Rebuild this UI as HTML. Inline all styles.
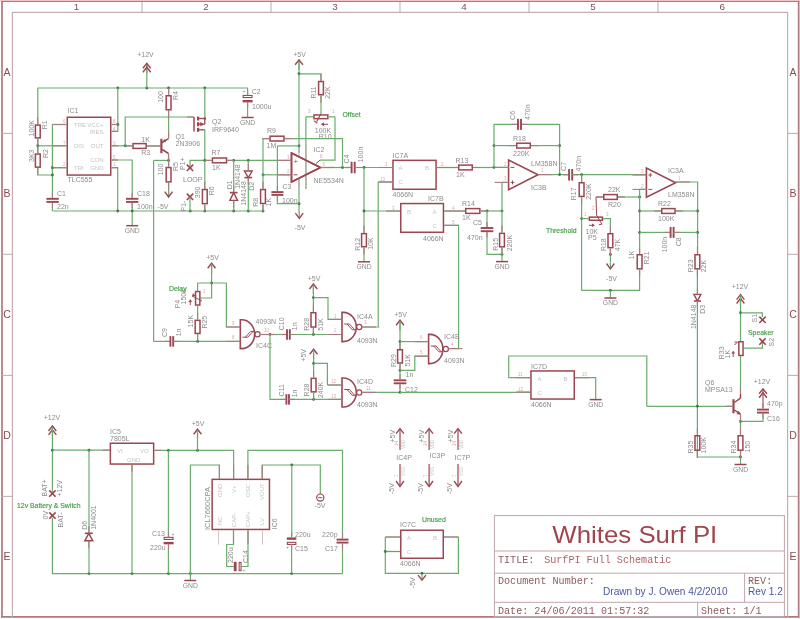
<!DOCTYPE html>
<html><head><meta charset="utf-8"><style>
html,body{margin:0;padding:0;background:#fff;}
svg{display:block;filter:blur(0.3px);}
</style></head><body>
<svg width="800" height="619" viewBox="0 0 800 619">
<rect width="800" height="619" fill="#fff"/>
<line x1="0" y1="0.5" x2="800" y2="0.5" stroke="#f5c2c8" stroke-width="1"/>
<line x1="799.5" y1="0" x2="799.5" y2="619" stroke="#f5c2c8" stroke-width="1"/>
<line x1="1.1" y1="1.45" x2="799.2" y2="1.45" stroke="#b07880" stroke-width="1.1"/>
<line x1="2" y1="0.9" x2="2" y2="617.6" stroke="#b07880" stroke-width="1.7"/>
<line x1="798.5" y1="0.9" x2="798.5" y2="617.6" stroke="#b07880" stroke-width="1.4"/>
<line x1="1.1" y1="616.8" x2="799.2" y2="616.8" stroke="#b07880" stroke-width="1.7"/>
<polyline points="12.4,617 12.4,12.3 787.6,12.3 787.6,617" fill="none" stroke="#c4b0b4" stroke-width="1.2"/>
<line x1="142" y1="2" x2="142" y2="12.3" stroke="#c4b0b4" stroke-width="1.1"/>
<line x1="271" y1="2" x2="271" y2="12.3" stroke="#c4b0b4" stroke-width="1.1"/>
<line x1="400" y1="2" x2="400" y2="12.3" stroke="#c4b0b4" stroke-width="1.1"/>
<line x1="529" y1="2" x2="529" y2="12.3" stroke="#c4b0b4" stroke-width="1.1"/>
<line x1="658" y1="2" x2="658" y2="12.3" stroke="#c4b0b4" stroke-width="1.1"/>
<text x="76.60000000000001" y="10.1" font-family="Liberation Sans" font-size="9.8" fill="#7e4e54" text-anchor="middle" font-weight="normal">1</text>
<text x="205.9" y="10.1" font-family="Liberation Sans" font-size="9.8" fill="#7e4e54" text-anchor="middle" font-weight="normal">2</text>
<text x="334.9" y="10.1" font-family="Liberation Sans" font-size="9.8" fill="#7e4e54" text-anchor="middle" font-weight="normal">3</text>
<text x="463.9" y="10.1" font-family="Liberation Sans" font-size="9.8" fill="#7e4e54" text-anchor="middle" font-weight="normal">4</text>
<text x="592.9" y="10.1" font-family="Liberation Sans" font-size="9.8" fill="#7e4e54" text-anchor="middle" font-weight="normal">5</text>
<text x="722.1999999999999" y="10.1" font-family="Liberation Sans" font-size="9.8" fill="#7e4e54" text-anchor="middle" font-weight="normal">6</text>
<line x1="2" y1="133.4" x2="12.4" y2="133.4" stroke="#c4b0b4" stroke-width="1.1"/>
<line x1="787.6" y1="133.4" x2="798" y2="133.4" stroke="#c4b0b4" stroke-width="1.1"/>
<line x1="2" y1="254.3" x2="12.4" y2="254.3" stroke="#c4b0b4" stroke-width="1.1"/>
<line x1="787.6" y1="254.3" x2="798" y2="254.3" stroke="#c4b0b4" stroke-width="1.1"/>
<line x1="2" y1="375.4" x2="12.4" y2="375.4" stroke="#c4b0b4" stroke-width="1.1"/>
<line x1="787.6" y1="375.4" x2="798" y2="375.4" stroke="#c4b0b4" stroke-width="1.1"/>
<line x1="2" y1="496.4" x2="12.4" y2="496.4" stroke="#c4b0b4" stroke-width="1.1"/>
<line x1="787.6" y1="496.4" x2="798" y2="496.4" stroke="#c4b0b4" stroke-width="1.1"/>
<text x="7.1" y="75.75000000000001" font-family="Liberation Sans" font-size="10.5" fill="#8a4a50" text-anchor="middle" font-weight="normal">A</text>
<text x="793" y="75.75000000000001" font-family="Liberation Sans" font-size="10.5" fill="#8a4a50" text-anchor="middle" font-weight="normal">A</text>
<text x="7.1" y="196.75000000000003" font-family="Liberation Sans" font-size="10.5" fill="#8a4a50" text-anchor="middle" font-weight="normal">B</text>
<text x="793" y="196.75000000000003" font-family="Liberation Sans" font-size="10.5" fill="#8a4a50" text-anchor="middle" font-weight="normal">B</text>
<text x="7.1" y="317.75" font-family="Liberation Sans" font-size="10.5" fill="#8a4a50" text-anchor="middle" font-weight="normal">C</text>
<text x="793" y="317.75" font-family="Liberation Sans" font-size="10.5" fill="#8a4a50" text-anchor="middle" font-weight="normal">C</text>
<text x="7.1" y="438.79999999999995" font-family="Liberation Sans" font-size="10.5" fill="#8a4a50" text-anchor="middle" font-weight="normal">D</text>
<text x="793" y="438.79999999999995" font-family="Liberation Sans" font-size="10.5" fill="#8a4a50" text-anchor="middle" font-weight="normal">D</text>
<text x="7.1" y="559.6" font-family="Liberation Sans" font-size="10.5" fill="#8a4a50" text-anchor="middle" font-weight="normal">E</text>
<text x="793" y="559.6" font-family="Liberation Sans" font-size="10.5" fill="#8a4a50" text-anchor="middle" font-weight="normal">E</text>
<polyline points="37.8,124.5 37.8,88 247.6,88 247.6,94.4" fill="none" stroke="#6aac6c" stroke-width="1.2"/>
<circle cx="117.8" cy="88" r="1.45" fill="#3f7a4a"/>
<circle cx="146.8" cy="88" r="1.45" fill="#3f7a4a"/>
<circle cx="168.6" cy="88" r="1.45" fill="#3f7a4a"/>
<circle cx="204.8" cy="88" r="1.45" fill="#3f7a4a"/>
<polyline points="146.8,88 146.8,64" fill="none" stroke="#6aac6c" stroke-width="1.2"/>
<line x1="146.8" y1="63.3" x2="146.8" y2="73.3" stroke="#6aac6c" stroke-width="1.2"/>
<polyline points="142.9,68.3 146.8,63.3 150.70000000000002,68.3" fill="none" stroke="#9c4652" stroke-width="1.4"/>
<polyline points="142.9,72.2 146.8,67.2 150.70000000000002,72.2" fill="none" stroke="#9c4652" stroke-width="1.4"/>
<text x="145.5" y="57" font-family="Liberation Sans" font-size="7" fill="#8c8c8c" text-anchor="middle" font-weight="normal">+12V</text>
<rect x="35.4" y="125.05" width="4.799999999999997" height="12.899999999999991" fill="none" stroke="#9c4652" stroke-width="1.5"/>
<polyline points="37.8,138.7 37.8,153.3" fill="none" stroke="#6aac6c" stroke-width="1.2"/>
<rect x="35.4" y="154.05" width="4.799999999999997" height="13.099999999999994" fill="none" stroke="#9c4652" stroke-width="1.5"/>
<polyline points="37.8,167.9 37.8,175 52.4,175" fill="none" stroke="#6aac6c" stroke-width="1.2"/>
<circle cx="37.8" cy="145.8" r="1.45" fill="#3f7a4a"/>
<text x="34" y="136.5" font-family="Liberation Sans" font-size="7" fill="#8c8c8c" text-anchor="start" font-weight="normal" transform="rotate(-90 34 136.5)">100K</text>
<text x="47.5" y="129.3" font-family="Liberation Sans" font-size="7" fill="#8c8c8c" text-anchor="start" font-weight="normal" transform="rotate(-90 47.5 129.3)">R1</text>
<text x="34" y="162" font-family="Liberation Sans" font-size="7" fill="#8c8c8c" text-anchor="start" font-weight="normal" transform="rotate(-90 34 162)">3K3</text>
<text x="47.5" y="158" font-family="Liberation Sans" font-size="7" fill="#8c8c8c" text-anchor="start" font-weight="normal" transform="rotate(-90 47.5 158)">R2</text>
<rect x="67.25" y="117.25" width="43.5" height="57.80000000000001" fill="none" stroke="#9c4652" stroke-width="1.5"/>
<text x="67.5" y="113.3" font-family="Liberation Sans" font-size="7" fill="#8c8c8c" text-anchor="start" font-weight="normal">IC1</text>
<text x="67.5" y="181.8" font-family="Liberation Sans" font-size="7" fill="#8c8c8c" text-anchor="start" font-weight="normal">TLC555</text>
<text x="74" y="127" font-family="Liberation Sans" font-size="6" fill="#c4c4c4" text-anchor="start" font-weight="normal">TRE</text>
<text x="103.5" y="127" font-family="Liberation Sans" font-size="6" fill="#c4c4c4" text-anchor="end" font-weight="normal">VCC+</text>
<text x="103.5" y="133.8" font-family="Liberation Sans" font-size="6" fill="#c4c4c4" text-anchor="end" font-weight="normal">/RES</text>
<text x="74" y="148.3" font-family="Liberation Sans" font-size="6" fill="#c4c4c4" text-anchor="start" font-weight="normal">DIS</text>
<text x="103.5" y="148.3" font-family="Liberation Sans" font-size="6" fill="#c4c4c4" text-anchor="end" font-weight="normal">OUT</text>
<text x="103.5" y="162.3" font-family="Liberation Sans" font-size="6" fill="#c4c4c4" text-anchor="end" font-weight="normal">CON</text>
<text x="74" y="170" font-family="Liberation Sans" font-size="6" fill="#c4c4c4" text-anchor="start" font-weight="normal">TRI</text>
<text x="103.5" y="170" font-family="Liberation Sans" font-size="6" fill="#c4c4c4" text-anchor="end" font-weight="normal">GND</text>
<polyline points="52.4,124.5 66.5,124.5" fill="none" stroke="#6aac6c" stroke-width="1.2"/>
<polyline points="37.8,145.8 66.5,145.8" fill="none" stroke="#6aac6c" stroke-width="1.2"/>
<polyline points="52.4,167.7 66.5,167.7" fill="none" stroke="#6aac6c" stroke-width="1.2"/>
<polyline points="52.4,124.5 52.4,198" fill="none" stroke="#6aac6c" stroke-width="1.2"/>
<circle cx="52.4" cy="167.7" r="1.45" fill="#3f7a4a"/>
<circle cx="52.4" cy="175" r="1.45" fill="#3f7a4a"/>
<polyline points="111.5,124.5 117.8,124.5" fill="none" stroke="#6aac6c" stroke-width="1.2"/>
<polyline points="111.5,131.4 117.8,131.4 117.8,88" fill="none" stroke="#6aac6c" stroke-width="1.2"/>
<circle cx="117.8" cy="124.5" r="1.45" fill="#3f7a4a"/>
<polyline points="111.5,145.8 132.3,145.8" fill="none" stroke="#6aac6c" stroke-width="1.2"/>
<circle cx="125.2" cy="145.8" r="1.45" fill="#3f7a4a"/>
<polyline points="125.2,145.8 125.2,117 194,117" fill="none" stroke="#6aac6c" stroke-width="1.2"/>
<polyline points="111.5,160 132.2,160 132.2,198" fill="none" stroke="#6aac6c" stroke-width="1.2"/>
<polyline points="111.5,167.7 117.7,167.7 117.7,211" fill="none" stroke="#6aac6c" stroke-width="1.2"/>
<text x="63" y="123" font-family="Liberation Sans" font-size="4.5" fill="#dca6ac" text-anchor="start" font-weight="normal">6</text>
<text x="63" y="144.5" font-family="Liberation Sans" font-size="4.5" fill="#dca6ac" text-anchor="start" font-weight="normal">7</text>
<text x="63" y="166" font-family="Liberation Sans" font-size="4.5" fill="#dca6ac" text-anchor="start" font-weight="normal">2</text>
<text x="113" y="123" font-family="Liberation Sans" font-size="4.5" fill="#dca6ac" text-anchor="start" font-weight="normal">8</text>
<text x="113" y="130.5" font-family="Liberation Sans" font-size="4.5" fill="#dca6ac" text-anchor="start" font-weight="normal">4</text>
<text x="113" y="144.5" font-family="Liberation Sans" font-size="4.5" fill="#dca6ac" text-anchor="start" font-weight="normal">3</text>
<text x="113" y="158.5" font-family="Liberation Sans" font-size="4.5" fill="#dca6ac" text-anchor="start" font-weight="normal">5</text>
<text x="113" y="166" font-family="Liberation Sans" font-size="4.5" fill="#dca6ac" text-anchor="start" font-weight="normal">1</text>
<rect x="46.4" y="197.85000000000002" width="12.400000000000006" height="1.8999999999999773" fill="#9c4652"/>
<rect x="46.4" y="200.95000000000002" width="12.400000000000006" height="1.8999999999999773" fill="#9c4652"/>
<polyline points="52.4,202.9 52.4,211" fill="none" stroke="#6aac6c" stroke-width="1.2"/>
<text x="57" y="195.5" font-family="Liberation Sans" font-size="7" fill="#8c8c8c" text-anchor="start" font-weight="normal">C1</text>
<text x="57" y="208.5" font-family="Liberation Sans" font-size="7" fill="#8c8c8c" text-anchor="start" font-weight="normal">22n</text>
<rect x="125.99999999999999" y="197.85000000000002" width="12.399999999999991" height="1.8999999999999773" fill="#9c4652"/>
<rect x="125.99999999999999" y="200.95000000000002" width="12.399999999999991" height="1.8999999999999773" fill="#9c4652"/>
<polyline points="132.2,202.9 132.2,225.5" fill="none" stroke="#6aac6c" stroke-width="1.2"/>
<line x1="126.19999999999999" y1="225.7" x2="138.2" y2="225.7" stroke="#9c4652" stroke-width="1.5"/>
<text x="132.2" y="232.89999999999998" font-family="Liberation Sans" font-size="6.8" fill="#8c8c8c" text-anchor="middle" font-weight="normal">GND</text>
<text x="137" y="195.5" font-family="Liberation Sans" font-size="7" fill="#8c8c8c" text-anchor="start" font-weight="normal">C18</text>
<text x="137" y="208.5" font-family="Liberation Sans" font-size="7" fill="#8c8c8c" text-anchor="start" font-weight="normal">100n</text>
<polyline points="52.4,211 263,211" fill="none" stroke="#6aac6c" stroke-width="1.2"/>
<circle cx="117.7" cy="211" r="1.45" fill="#3f7a4a"/>
<circle cx="132.2" cy="211" r="1.45" fill="#3f7a4a"/>
<circle cx="190.2" cy="211" r="1.45" fill="#3f7a4a"/>
<circle cx="204.8" cy="211" r="1.45" fill="#3f7a4a"/>
<circle cx="233.7" cy="211" r="1.45" fill="#3f7a4a"/>
<circle cx="248.3" cy="211" r="1.45" fill="#3f7a4a"/>
<circle cx="263" cy="211" r="1.45" fill="#3f7a4a"/>
<rect x="133.05" y="143.6" width="13.099999999999994" height="4.800000000000011" fill="none" stroke="#9c4652" stroke-width="1.5"/>
<polyline points="146.9,146 160.5,146" fill="none" stroke="#6aac6c" stroke-width="1.2"/>
<text x="141.3" y="142" font-family="Liberation Sans" font-size="7" fill="#8c8c8c" text-anchor="start" font-weight="normal">1K</text>
<text x="141.3" y="155" font-family="Liberation Sans" font-size="7" fill="#8c8c8c" text-anchor="start" font-weight="normal">R3</text>
<rect x="160.3" y="138.8" width="2.1999999999999886" height="14.399999999999977" fill="#9c4652"/>
<line x1="162.2" y1="142.5" x2="168.5" y2="138.6" stroke="#9c4652" stroke-width="1.5"/>
<polyline points="168.6,138.6 168.6,110.5" fill="none" stroke="#6aac6c" stroke-width="1.2"/>
<line x1="162.2" y1="149.5" x2="168.5" y2="153.5" stroke="#9c4652" stroke-width="1.5"/>
<line x1="168.5" y1="153.5" x2="168.5" y2="160.4" stroke="#6aac6c" stroke-width="1.2"/>
<polygon points="162.6,142.3 166.2,141.6 164.2,139.0" fill="#9c4652"/>
<text x="175.5" y="138.5" font-family="Liberation Sans" font-size="7" fill="#8c8c8c" text-anchor="start" font-weight="normal">Q1</text>
<text x="175.5" y="146" font-family="Liberation Sans" font-size="7" fill="#8c8c8c" text-anchor="start" font-weight="normal">2N3906</text>
<polyline points="168.6,88 168.6,95" fill="none" stroke="#6aac6c" stroke-width="1.2"/>
<rect x="166.2" y="95.75" width="4.800000000000011" height="14.0" fill="none" stroke="#9c4652" stroke-width="1.5"/>
<text x="163.5" y="102.8" font-family="Liberation Sans" font-size="7" fill="#8c8c8c" text-anchor="start" font-weight="normal" transform="rotate(-90 163.5 102.8)">100</text>
<text x="177.5" y="100" font-family="Liberation Sans" font-size="7" fill="#8c8c8c" text-anchor="start" font-weight="normal" transform="rotate(-90 177.5 100)">R4</text>
<line x1="194" y1="117" x2="194" y2="131.5" stroke="#9c4652" stroke-width="1.5"/>
<rect x="197" y="116.5" width="2.1999999999999886" height="4.0" fill="#9c4652"/>
<rect x="197" y="122.2" width="2.1999999999999886" height="4.0" fill="#9c4652"/>
<rect x="197" y="127.8" width="2.1999999999999886" height="4.000000000000014" fill="#9c4652"/>
<line x1="199" y1="118.5" x2="204.8" y2="118.5" stroke="#9c4652" stroke-width="1.3"/>
<line x1="199" y1="124.2" x2="204.8" y2="124.2" stroke="#9c4652" stroke-width="1.3"/>
<line x1="199" y1="129.8" x2="204.8" y2="129.8" stroke="#9c4652" stroke-width="1.3"/>
<line x1="204.8" y1="118.5" x2="204.8" y2="124.2" stroke="#9c4652" stroke-width="1.3"/>
<polygon points="204,124.2 200.3,121.8 200.3,126.6" fill="#9c4652"/>
<rect x="203.8" y="117.3" width="2.1999999999999886" height="2.4000000000000057" fill="#9c4652"/>
<polyline points="204.8,88 204.8,118" fill="none" stroke="#6aac6c" stroke-width="1.2"/>
<polyline points="204.8,129.8 204.8,189" fill="none" stroke="#6aac6c" stroke-width="1.2"/>
<text x="212" y="124.4" font-family="Liberation Sans" font-size="7" fill="#8c8c8c" text-anchor="start" font-weight="normal">Q2</text>
<text x="212" y="131.8" font-family="Liberation Sans" font-size="7" fill="#8c8c8c" text-anchor="start" font-weight="normal">IRF9640</text>
<rect x="243.15" y="95.45" width="8.9" height="2.0999999999999885" fill="none" stroke="#9c4652" stroke-width="1.1"/>
<rect x="242.6" y="100.0" width="10.0" height="2.4000000000000057" fill="#9c4652"/>
<polyline points="247.6,102.4 247.6,117" fill="none" stroke="#6aac6c" stroke-width="1.2"/>
<line x1="241.6" y1="117.5" x2="253.6" y2="117.5" stroke="#9c4652" stroke-width="1.5"/>
<text x="247.6" y="124.7" font-family="Liberation Sans" font-size="6.8" fill="#8c8c8c" text-anchor="middle" font-weight="normal">GND</text>
<text x="251.8" y="94.3" font-family="Liberation Sans" font-size="7" fill="#8c8c8c" text-anchor="start" font-weight="normal">C2</text>
<text x="252" y="108.5" font-family="Liberation Sans" font-size="7" fill="#8c8c8c" text-anchor="start" font-weight="normal">1000u</text>
<text x="242.5" y="92.5" font-family="Liberation Sans" font-size="5" fill="#8c8c8c" text-anchor="start" font-weight="normal">+</text>
<polyline points="153.6,160.4 168.6,160.4" fill="none" stroke="#6aac6c" stroke-width="1.2"/>
<circle cx="168.6" cy="160.4" r="1.45" fill="#3f7a4a"/>
<polyline points="153.6,160.4 153.6,341.4" fill="none" stroke="#6aac6c" stroke-width="1.2"/>
<polyline points="168.6,160.4 168.6,166.8" fill="none" stroke="#6aac6c" stroke-width="1.2"/>
<rect x="166.2" y="167.55" width="4.800000000000011" height="14.299999999999983" fill="none" stroke="#9c4652" stroke-width="1.5"/>
<polyline points="168.6,182.6 168.6,196.5" fill="none" stroke="#6aac6c" stroke-width="1.2"/>
<line x1="168.6" y1="190.7" x2="168.6" y2="197" stroke="#6aac6c" stroke-width="1.2"/>
<polyline points="164.7,191.7 168.6,197 172.5,191.7" fill="none" stroke="#9c4652" stroke-width="1.4"/>
<text x="163" y="208.5" font-family="Liberation Sans" font-size="7" fill="#8c8c8c" text-anchor="middle" font-weight="normal">-5V</text>
<text x="163.5" y="175.3" font-family="Liberation Sans" font-size="7" fill="#8c8c8c" text-anchor="start" font-weight="normal" transform="rotate(-90 163.5 175.3)">100</text>
<text x="177.5" y="171" font-family="Liberation Sans" font-size="7" fill="#8c8c8c" text-anchor="start" font-weight="normal" transform="rotate(-90 177.5 171)">R5</text>
<polyline points="204.8,160.4 190,160.4 190,167.5" fill="none" stroke="#6aac6c" stroke-width="1.2"/>
<circle cx="204.8" cy="160.4" r="1.45" fill="#3f7a4a"/>
<line x1="186.8" y1="164.60000000000002" x2="193.2" y2="171.0" stroke="#9c4652" stroke-width="1.6"/>
<line x1="186.8" y1="171.0" x2="193.2" y2="164.60000000000002" stroke="#9c4652" stroke-width="1.6"/>
<line x1="186.8" y1="193.60000000000002" x2="193.2" y2="200.0" stroke="#9c4652" stroke-width="1.6"/>
<line x1="186.8" y1="200.0" x2="193.2" y2="193.60000000000002" stroke="#9c4652" stroke-width="1.6"/>
<polyline points="190,197 190,211" fill="none" stroke="#6aac6c" stroke-width="1.2"/>
<text x="184.5" y="170" font-family="Liberation Sans" font-size="7" fill="#8c8c8c" text-anchor="start" font-weight="normal" transform="rotate(-90 184.5 170)">P1+</text>
<text x="186" y="211.5" font-family="Liberation Sans" font-size="7" fill="#8c8c8c" text-anchor="start" font-weight="normal" transform="rotate(-90 186 211.5)">P1-</text>
<text x="183" y="182" font-family="Liberation Sans" font-size="7" fill="#8c8c8c" text-anchor="start" font-weight="normal">LOOP</text>
<rect x="202.4" y="189.55" width="4.800000000000011" height="14.099999999999994" fill="none" stroke="#9c4652" stroke-width="1.5"/>
<polyline points="204.8,204.4 204.8,211" fill="none" stroke="#6aac6c" stroke-width="1.2"/>
<text x="200.4" y="198.2" font-family="Liberation Sans" font-size="7" fill="#8c8c8c" text-anchor="start" font-weight="normal" transform="rotate(-90 200.4 198.2)">390</text>
<text x="214" y="195.3" font-family="Liberation Sans" font-size="7" fill="#8c8c8c" text-anchor="start" font-weight="normal" transform="rotate(-90 214 195.3)">R6</text>
<polyline points="204.8,160.4 211.7,160.4" fill="none" stroke="#6aac6c" stroke-width="1.2"/>
<rect x="212.45" y="158.0" width="14.100000000000023" height="4.800000000000011" fill="none" stroke="#9c4652" stroke-width="1.5"/>
<polyline points="227.3,160.4 291.5,160.4" fill="none" stroke="#6aac6c" stroke-width="1.2"/>
<circle cx="233.7" cy="160.4" r="1.45" fill="#3f7a4a"/>
<circle cx="248.3" cy="160.4" r="1.45" fill="#3f7a4a"/>
<text x="211.5" y="155" font-family="Liberation Sans" font-size="7" fill="#8c8c8c" text-anchor="start" font-weight="normal">R7</text>
<text x="212" y="169.5" font-family="Liberation Sans" font-size="7" fill="#8c8c8c" text-anchor="start" font-weight="normal">1K</text>
<polyline points="233.7,160.4 233.7,192.6" fill="none" stroke="#6aac6c" stroke-width="1.2"/>
<polyline points="233.7,200.4 233.7,211" fill="none" stroke="#6aac6c" stroke-width="1.2"/>
<polygon points="229.85,200.4 237.54999999999998,200.4 233.7,192.6" fill="none" stroke="#9c4652" stroke-width="1.4"/>
<line x1="229.85" y1="192.6" x2="237.54999999999998" y2="192.6" stroke="#9c4652" stroke-width="1.6"/>
<text x="231.8" y="189.2" font-family="Liberation Sans" font-size="7" fill="#8c8c8c" text-anchor="start" font-weight="normal" transform="rotate(-90 231.8 189.2)">D1</text>
<text x="239.8" y="188.8" font-family="Liberation Sans" font-size="7" fill="#8c8c8c" text-anchor="start" font-weight="normal" transform="rotate(-90 239.8 188.8)">1N4148</text>
<polyline points="248.3,160.4 248.3,171" fill="none" stroke="#6aac6c" stroke-width="1.2"/>
<polyline points="248.3,177.6 248.3,211" fill="none" stroke="#6aac6c" stroke-width="1.2"/>
<polygon points="244.45000000000002,171 252.15,171 248.3,177.6" fill="none" stroke="#9c4652" stroke-width="1.4"/>
<line x1="244.45000000000002" y1="177.6" x2="252.15" y2="177.6" stroke="#9c4652" stroke-width="1.6"/>
<text x="246.4" y="205.6" font-family="Liberation Sans" font-size="7" fill="#8c8c8c" text-anchor="start" font-weight="normal" transform="rotate(-90 246.4 205.6)">1N4148</text>
<text x="254.4" y="190.8" font-family="Liberation Sans" font-size="7" fill="#8c8c8c" text-anchor="start" font-weight="normal" transform="rotate(-90 254.4 190.8)">D2</text>
<polyline points="299,60.5 299,153" fill="none" stroke="#6aac6c" stroke-width="1.2"/>
<line x1="299" y1="59.8" x2="299" y2="69.8" stroke="#6aac6c" stroke-width="1.2"/>
<polyline points="295.1,64.8 299,59.8 302.9,64.8" fill="none" stroke="#9c4652" stroke-width="1.4"/>
<text x="299.5" y="56.5" font-family="Liberation Sans" font-size="7" fill="#8c8c8c" text-anchor="middle" font-weight="normal">+5V</text>
<circle cx="299" cy="73.8" r="1.45" fill="#3f7a4a"/>
<polyline points="299,73.8 321,73.8 321,81" fill="none" stroke="#6aac6c" stroke-width="1.2"/>
<rect x="318.6" y="81.55" width="4.7999999999999545" height="13.200000000000003" fill="none" stroke="#9c4652" stroke-width="1.5"/>
<polyline points="321,95.5 321,114" fill="none" stroke="#6aac6c" stroke-width="1.2"/>
<text x="315.8" y="98.6" font-family="Liberation Sans" font-size="7" fill="#8c8c8c" text-anchor="start" font-weight="normal" transform="rotate(-90 315.8 98.6)">R11</text>
<text x="330.2" y="98.8" font-family="Liberation Sans" font-size="7" fill="#8c8c8c" text-anchor="start" font-weight="normal" transform="rotate(-90 330.2 98.8)">22K</text>
<rect x="313.95" y="114.95" width="13.900000000000034" height="3.700000000000003" fill="none" stroke="#9c4652" stroke-width="1.5"/>
<polyline points="305.9,116.8 313.2,116.8" fill="none" stroke="#6aac6c" stroke-width="1.2"/>
<polyline points="328.6,116.8 335,116.8" fill="none" stroke="#6aac6c" stroke-width="1.2"/>
<line x1="320.8" y1="114" x2="316.6" y2="121.8" stroke="#9c4652" stroke-width="1.1"/>
<line x1="313.8" y1="120.6" x2="317.3" y2="123.4" stroke="#9c4652" stroke-width="1.1"/>
<line x1="321.5" y1="124.3" x2="328" y2="124.3" stroke="#9c4652" stroke-width="1"/>
<polygon points="321,124.3 324,122.3 324,126.3" fill="#9c4652"/>
<polyline points="305.9,116.8 305.9,189" fill="none" stroke="#6aac6c" stroke-width="1.2"/>
<polyline points="335,116.8 335,160.2 320,160.2" fill="none" stroke="#6aac6c" stroke-width="1.2"/>
<line x1="320" y1="160.2" x2="316" y2="163.5" stroke="#9c4652" stroke-width="1"/>
<text x="314.8" y="133" font-family="Liberation Sans" font-size="7" fill="#8c8c8c" text-anchor="start" font-weight="normal">100K</text>
<text x="318.8" y="138.7" font-family="Liberation Sans" font-size="7" fill="#8c8c8c" text-anchor="start" font-weight="normal">R10</text>
<text x="342.5" y="116.5" font-family="Liberation Sans" font-size="6.9" fill="#3f9a3f" text-anchor="start" font-weight="normal" stroke="#4a9a4a" stroke-width="0.15">Offset</text>
<text x="308" y="113" font-family="Liberation Sans" font-size="4.5" fill="#dca6ac" text-anchor="start" font-weight="normal">3</text>
<text x="332" y="113" font-family="Liberation Sans" font-size="4.5" fill="#dca6ac" text-anchor="start" font-weight="normal">1</text>
<polygon points="291.5,153 291.5,182 320.5,167.5" fill="none" stroke="#9c4652" stroke-width="1.6" stroke-linejoin="miter"/>
<text x="293.5" y="164" font-family="Liberation Sans" font-size="8" fill="#9c4652" text-anchor="start" font-weight="normal">+</text>
<line x1="293.5" y1="174.8" x2="297.5" y2="174.8" stroke="#9c4652" stroke-width="1"/>
<polyline points="291.5,174.8 263,174.8" fill="none" stroke="#6aac6c" stroke-width="1.2"/>
<circle cx="263" cy="174.8" r="1.45" fill="#3f7a4a"/>
<polyline points="299,177.9 299,203.7" fill="none" stroke="#6aac6c" stroke-width="1.2"/>
<polyline points="299,203.7 299,212.8" fill="none" stroke="#6aac6c" stroke-width="1.2"/>
<circle cx="299" cy="203.7" r="1.45" fill="#3f7a4a"/>
<line x1="299.3" y1="212.1" x2="299.3" y2="218.4" stroke="#6aac6c" stroke-width="1.2"/>
<polyline points="295.40000000000003,213.1 299.3,218.4 303.2,213.1" fill="none" stroke="#9c4652" stroke-width="1.4"/>
<text x="300" y="229.5" font-family="Liberation Sans" font-size="7" fill="#8c8c8c" text-anchor="middle" font-weight="normal">-5V</text>
<text x="313.5" y="151.5" font-family="Liberation Sans" font-size="7" fill="#8c8c8c" text-anchor="start" font-weight="normal">IC2</text>
<text x="313.5" y="182.5" font-family="Liberation Sans" font-size="7" fill="#8c8c8c" text-anchor="start" font-weight="normal">NE5534N</text>
<text x="287" y="158.5" font-family="Liberation Sans" font-size="4.5" fill="#dca6ac" text-anchor="start" font-weight="normal">3</text>
<text x="287" y="172.5" font-family="Liberation Sans" font-size="4.5" fill="#dca6ac" text-anchor="start" font-weight="normal">2</text>
<text x="322.5" y="165.5" font-family="Liberation Sans" font-size="4.5" fill="#dca6ac" text-anchor="start" font-weight="normal">6</text>
<text x="320" y="158" font-family="Liberation Sans" font-size="4.5" fill="#dca6ac" text-anchor="start" font-weight="normal">8</text>
<polyline points="320.5,167.5 351.3,167.5" fill="none" stroke="#6aac6c" stroke-width="1.2"/>
<circle cx="342.5" cy="167.5" r="1.45" fill="#3f7a4a"/>
<polyline points="342.5,167.5 342.5,138.6 284.7,138.6" fill="none" stroke="#6aac6c" stroke-width="1.2"/>
<rect x="270.05" y="136.2" width="13.899999999999977" height="4.800000000000011" fill="none" stroke="#9c4652" stroke-width="1.5"/>
<polyline points="269.3,138.6 263,138.6 263,188.8" fill="none" stroke="#6aac6c" stroke-width="1.2"/>
<text x="267" y="133" font-family="Liberation Sans" font-size="7" fill="#8c8c8c" text-anchor="start" font-weight="normal">R9</text>
<text x="266.5" y="148.3" font-family="Liberation Sans" font-size="7" fill="#8c8c8c" text-anchor="start" font-weight="normal">1M</text>
<circle cx="299" cy="145.9" r="1.45" fill="#3f7a4a"/>
<polyline points="277.4,145.9 299,145.9" fill="none" stroke="#6aac6c" stroke-width="1.2"/>
<polyline points="277.4,145.9 277.4,191.5" fill="none" stroke="#6aac6c" stroke-width="1.2"/>
<rect x="271.4" y="191.15" width="12.0" height="1.8999999999999773" fill="#9c4652"/>
<rect x="271.4" y="193.95000000000002" width="12.0" height="1.8999999999999773" fill="#9c4652"/>
<polyline points="277.4,195.5 277.4,203.7 299,203.7" fill="none" stroke="#6aac6c" stroke-width="1.2"/>
<text x="282.5" y="189" font-family="Liberation Sans" font-size="7" fill="#8c8c8c" text-anchor="start" font-weight="normal">C3</text>
<text x="282" y="203" font-family="Liberation Sans" font-size="7" fill="#8c8c8c" text-anchor="start" font-weight="normal">100n</text>
<rect x="260.6" y="189.55" width="4.7999999999999545" height="13.899999999999977" fill="none" stroke="#9c4652" stroke-width="1.5"/>
<polyline points="263,204.2 263,211" fill="none" stroke="#6aac6c" stroke-width="1.2"/>
<text x="257.6" y="206.8" font-family="Liberation Sans" font-size="7" fill="#8c8c8c" text-anchor="start" font-weight="normal" transform="rotate(-90 257.6 206.8)">R8</text>
<text x="271.3" y="206.4" font-family="Liberation Sans" font-size="7" fill="#8c8c8c" text-anchor="start" font-weight="normal" transform="rotate(-90 271.3 206.4)">1K</text>
<rect x="350.65000000000003" y="161.75" width="1.8999999999999773" height="11.5" fill="#9c4652"/>
<rect x="353.75" y="161.75" width="1.8999999999999773" height="11.5" fill="#9c4652"/>
<polyline points="354.7,167.5 392.4,167.5" fill="none" stroke="#6aac6c" stroke-width="1.2"/>
<circle cx="364" cy="167.5" r="1.45" fill="#3f7a4a"/>
<text x="348.8" y="163.4" font-family="Liberation Sans" font-size="7" fill="#8c8c8c" text-anchor="start" font-weight="normal" transform="rotate(-90 348.8 163.4)">C4</text>
<text x="363.5" y="162.3" font-family="Liberation Sans" font-size="7" fill="#8c8c8c" text-anchor="start" font-weight="normal" transform="rotate(-90 363.5 162.3)">100n</text>
<polyline points="364,167.5 364,232.9" fill="none" stroke="#6aac6c" stroke-width="1.2"/>
<rect x="361.6" y="233.65" width="4.7999999999999545" height="13.099999999999994" fill="none" stroke="#9c4652" stroke-width="1.5"/>
<polyline points="364,247.5 364,261.8" fill="none" stroke="#6aac6c" stroke-width="1.2"/>
<line x1="358.0" y1="261.8" x2="370.0" y2="261.8" stroke="#9c4652" stroke-width="1.5"/>
<text x="364" y="269.0" font-family="Liberation Sans" font-size="6.8" fill="#8c8c8c" text-anchor="middle" font-weight="normal">GND</text>
<text x="359.8" y="250.7" font-family="Liberation Sans" font-size="7" fill="#8c8c8c" text-anchor="start" font-weight="normal" transform="rotate(-90 359.8 250.7)">R12</text>
<text x="373.1" y="249.8" font-family="Liberation Sans" font-size="7" fill="#8c8c8c" text-anchor="start" font-weight="normal" transform="rotate(-90 373.1 249.8)">10K</text>
<polyline points="364,211 400,211" fill="none" stroke="#6aac6c" stroke-width="1.2"/>
<circle cx="364" cy="211" r="1.45" fill="#3f7a4a"/>
<rect x="392.95" y="160.35" width="43.10000000000002" height="28.900000000000006" fill="none" stroke="#9c4652" stroke-width="1.5"/>
<text x="392.5" y="157.5" font-family="Liberation Sans" font-size="7" fill="#8c8c8c" text-anchor="start" font-weight="normal">IC7A</text>
<text x="392.5" y="196.8" font-family="Liberation Sans" font-size="7" fill="#8c8c8c" text-anchor="start" font-weight="normal">4066N</text>
<text x="398.5" y="170" font-family="Liberation Sans" font-size="6" fill="#c4c4c4" text-anchor="start" font-weight="normal">A</text>
<text x="425" y="170" font-family="Liberation Sans" font-size="6" fill="#c4c4c4" text-anchor="start" font-weight="normal">B</text>
<text x="398.5" y="184.3" font-family="Liberation Sans" font-size="6" fill="#c4c4c4" text-anchor="start" font-weight="normal">C</text>
<text x="385" y="165.5" font-family="Liberation Sans" font-size="4.5" fill="#dca6ac" text-anchor="start" font-weight="normal">1</text>
<text x="380" y="180.5" font-family="Liberation Sans" font-size="4.5" fill="#dca6ac" text-anchor="start" font-weight="normal">13</text>
<text x="441" y="165.5" font-family="Liberation Sans" font-size="4.5" fill="#dca6ac" text-anchor="start" font-weight="normal">2</text>
<polyline points="378.2,182 392.2,182" fill="none" stroke="#6aac6c" stroke-width="1.2"/>
<polyline points="378.2,182 378.2,326.8" fill="none" stroke="#6aac6c" stroke-width="1.2"/>
<polyline points="436.6,167.5 458,167.5" fill="none" stroke="#6aac6c" stroke-width="1.2"/>
<rect x="458.75" y="165.1" width="13.5" height="4.800000000000011" fill="none" stroke="#9c4652" stroke-width="1.5"/>
<polyline points="473,167.5 494,167.5" fill="none" stroke="#6aac6c" stroke-width="1.2"/>
<text x="455.5" y="162.5" font-family="Liberation Sans" font-size="7" fill="#8c8c8c" text-anchor="start" font-weight="normal">R13</text>
<text x="456" y="177" font-family="Liberation Sans" font-size="7" fill="#8c8c8c" text-anchor="start" font-weight="normal">1K</text>
<rect x="400.75" y="203.55" width="42.69999999999999" height="28.69999999999999" fill="none" stroke="#9c4652" stroke-width="1.5"/>
<text x="428" y="200.5" font-family="Liberation Sans" font-size="7" fill="#8c8c8c" text-anchor="start" font-weight="normal">IC7B</text>
<text x="423" y="240.5" font-family="Liberation Sans" font-size="7" fill="#8c8c8c" text-anchor="start" font-weight="normal">4066N</text>
<text x="407" y="213.5" font-family="Liberation Sans" font-size="6" fill="#c4c4c4" text-anchor="start" font-weight="normal">B</text>
<text x="432.5" y="213.5" font-family="Liberation Sans" font-size="6" fill="#c4c4c4" text-anchor="start" font-weight="normal">A</text>
<text x="432.5" y="227.8" font-family="Liberation Sans" font-size="6" fill="#c4c4c4" text-anchor="start" font-weight="normal">C</text>
<text x="392" y="209.5" font-family="Liberation Sans" font-size="4.5" fill="#dca6ac" text-anchor="start" font-weight="normal">3</text>
<text x="452" y="209.5" font-family="Liberation Sans" font-size="4.5" fill="#dca6ac" text-anchor="start" font-weight="normal">4</text>
<text x="452" y="224" font-family="Liberation Sans" font-size="4.5" fill="#dca6ac" text-anchor="start" font-weight="normal">5</text>
<polyline points="444.2,211 465,211" fill="none" stroke="#6aac6c" stroke-width="1.2"/>
<rect x="465.75" y="208.6" width="14.100000000000023" height="4.800000000000011" fill="none" stroke="#9c4652" stroke-width="1.5"/>
<polyline points="480.6,211 502,211" fill="none" stroke="#6aac6c" stroke-width="1.2"/>
<circle cx="487" cy="211" r="1.45" fill="#3f7a4a"/>
<circle cx="502" cy="211" r="1.45" fill="#3f7a4a"/>
<text x="462" y="206" font-family="Liberation Sans" font-size="7" fill="#8c8c8c" text-anchor="start" font-weight="normal">R14</text>
<text x="462" y="220" font-family="Liberation Sans" font-size="7" fill="#8c8c8c" text-anchor="start" font-weight="normal">1K</text>
<polyline points="444.2,225.3 458.6,225.3 458.6,348.4" fill="none" stroke="#6aac6c" stroke-width="1.2"/>
<polyline points="487,211 487,227" fill="none" stroke="#6aac6c" stroke-width="1.2"/>
<rect x="480.7" y="227.05" width="12.600000000000023" height="1.8999999999999773" fill="#9c4652"/>
<rect x="480.7" y="230.25" width="12.600000000000023" height="1.8999999999999773" fill="#9c4652"/>
<polyline points="487,231.8 487,254.4 502,254.4" fill="none" stroke="#6aac6c" stroke-width="1.2"/>
<circle cx="502" cy="254.4" r="1.45" fill="#3f7a4a"/>
<text x="473" y="225" font-family="Liberation Sans" font-size="7" fill="#8c8c8c" text-anchor="start" font-weight="normal">C5</text>
<text x="467" y="239.5" font-family="Liberation Sans" font-size="7" fill="#8c8c8c" text-anchor="start" font-weight="normal">470n</text>
<polyline points="502,182.4 502,232.6" fill="none" stroke="#6aac6c" stroke-width="1.2"/>
<rect x="499.6" y="233.35" width="4.7999999999999545" height="13.5" fill="none" stroke="#9c4652" stroke-width="1.5"/>
<polyline points="502,247.6 502,261.6" fill="none" stroke="#6aac6c" stroke-width="1.2"/>
<line x1="496.0" y1="261.6" x2="508.0" y2="261.6" stroke="#9c4652" stroke-width="1.5"/>
<text x="502" y="268.8" font-family="Liberation Sans" font-size="6.8" fill="#8c8c8c" text-anchor="middle" font-weight="normal">GND</text>
<text x="497.6" y="250.7" font-family="Liberation Sans" font-size="7" fill="#8c8c8c" text-anchor="start" font-weight="normal" transform="rotate(-90 497.6 250.7)">R15</text>
<text x="511.7" y="251.2" font-family="Liberation Sans" font-size="7" fill="#8c8c8c" text-anchor="start" font-weight="normal" transform="rotate(-90 511.7 251.2)">220K</text>
<line x1="305.9" y1="146" x2="305.9" y2="189" stroke="#c9a9ad" stroke-width="1.1"/>
<line x1="299" y1="149" x2="299" y2="157" stroke="#c9a9ad" stroke-width="1.1"/>
<line x1="299" y1="178" x2="299" y2="189" stroke="#c9a9ad" stroke-width="1.1"/>
<line x1="279.5" y1="174.8" x2="291.5" y2="174.8" stroke="#c9a9ad" stroke-width="1.1"/>
<line x1="320.5" y1="167.5" x2="334" y2="167.5" stroke="#c9a9ad" stroke-width="1.1"/>
<polygon points="291.5,153 291.5,182 320.5,167.5" fill="none" stroke="#9c4652" stroke-width="1.6" stroke-linejoin="miter"/>
<polygon points="508.6,160 508.6,189.6 538,174.8" fill="none" stroke="#9c4652" stroke-width="1.6" stroke-linejoin="miter"/>
<line x1="510.6" y1="167.4" x2="514.4" y2="167.4" stroke="#9c4652" stroke-width="1"/>
<line x1="510.6" y1="182.4" x2="514.4" y2="182.4" stroke="#9c4652" stroke-width="1"/>
<line x1="512.5" y1="180.5" x2="512.5" y2="184.3" stroke="#9c4652" stroke-width="1"/>
<polyline points="494,167.4 508.6,167.4" fill="none" stroke="#6aac6c" stroke-width="1.2"/>
<circle cx="494" cy="167.4" r="1.45" fill="#3f7a4a"/>
<polyline points="502,182.4 508.6,182.4" fill="none" stroke="#6aac6c" stroke-width="1.2"/>
<polyline points="494,167.4 494,124.4 518,124.4" fill="none" stroke="#6aac6c" stroke-width="1.2"/>
<polyline points="521,124.4 559.6,124.4 559.6,174.6" fill="none" stroke="#6aac6c" stroke-width="1.2"/>
<rect x="517.05" y="118.9" width="1.900000000000091" height="11.0" fill="#9c4652"/>
<rect x="520.05" y="118.9" width="1.900000000000091" height="11.0" fill="#9c4652"/>
<text x="515.4" y="119.9" font-family="Liberation Sans" font-size="7" fill="#8c8c8c" text-anchor="start" font-weight="normal" transform="rotate(-90 515.4 119.9)">C6</text>
<text x="529.5" y="120" font-family="Liberation Sans" font-size="7" fill="#8c8c8c" text-anchor="start" font-weight="normal" transform="rotate(-90 529.5 120)">470n</text>
<circle cx="494" cy="145.6" r="1.45" fill="#3f7a4a"/>
<circle cx="559.6" cy="145.6" r="1.45" fill="#3f7a4a"/>
<polyline points="494,145.6 516,145.6" fill="none" stroke="#6aac6c" stroke-width="1.2"/>
<rect x="516.75" y="143.2" width="13.5" height="4.800000000000011" fill="none" stroke="#9c4652" stroke-width="1.5"/>
<polyline points="531,145.6 559.6,145.6" fill="none" stroke="#6aac6c" stroke-width="1.2"/>
<text x="513" y="141" font-family="Liberation Sans" font-size="7" fill="#8c8c8c" text-anchor="start" font-weight="normal">R18</text>
<text x="513" y="155.5" font-family="Liberation Sans" font-size="7" fill="#8c8c8c" text-anchor="start" font-weight="normal">220K</text>
<polyline points="538,174.6 569,174.6" fill="none" stroke="#6aac6c" stroke-width="1.2"/>
<circle cx="559.6" cy="174.6" r="1.45" fill="#3f7a4a"/>
<text x="531" y="166" font-family="Liberation Sans" font-size="7" fill="#8c8c8c" text-anchor="start" font-weight="normal">LM358N</text>
<text x="531" y="189.5" font-family="Liberation Sans" font-size="7" fill="#8c8c8c" text-anchor="start" font-weight="normal">IC3B</text>
<text x="504" y="165.5" font-family="Liberation Sans" font-size="4.5" fill="#dca6ac" text-anchor="start" font-weight="normal">2</text>
<text x="504" y="180" font-family="Liberation Sans" font-size="4.5" fill="#dca6ac" text-anchor="start" font-weight="normal">3</text>
<text x="541" y="172" font-family="Liberation Sans" font-size="4.5" fill="#dca6ac" text-anchor="start" font-weight="normal">1</text>
<rect x="568.15" y="169.0" width="1.900000000000091" height="11.600000000000023" fill="#9c4652"/>
<rect x="571.25" y="169.0" width="1.900000000000091" height="11.600000000000023" fill="#9c4652"/>
<polyline points="572.2,174.6 646.4,174.6" fill="none" stroke="#6aac6c" stroke-width="1.2"/>
<circle cx="581.6" cy="174.6" r="1.45" fill="#3f7a4a"/>
<text x="566.5" y="170.9" font-family="Liberation Sans" font-size="7" fill="#8c8c8c" text-anchor="start" font-weight="normal" transform="rotate(-90 566.5 170.9)">C7</text>
<text x="580.7" y="171.4" font-family="Liberation Sans" font-size="7" fill="#8c8c8c" text-anchor="start" font-weight="normal" transform="rotate(-90 580.7 171.4)">470n</text>
<polyline points="581.6,174.6 581.6,182" fill="none" stroke="#6aac6c" stroke-width="1.2"/>
<rect x="579.2" y="182.75" width="4.7999999999999545" height="13.699999999999989" fill="none" stroke="#9c4652" stroke-width="1.5"/>
<polyline points="581.6,197.2 581.6,290.4" fill="none" stroke="#6aac6c" stroke-width="1.2"/>
<text x="576.3" y="200.3" font-family="Liberation Sans" font-size="7" fill="#8c8c8c" text-anchor="start" font-weight="normal" transform="rotate(-90 576.3 200.3)">R17</text>
<text x="591" y="199.8" font-family="Liberation Sans" font-size="7" fill="#8c8c8c" text-anchor="start" font-weight="normal" transform="rotate(-90 591 199.8)">220K</text>
<circle cx="581.6" cy="218.6" r="1.45" fill="#3f7a4a"/>
<polyline points="581.6,218.6 588.6,218.6" fill="none" stroke="#6aac6c" stroke-width="1.2"/>
<rect x="589.35" y="217.15" width="13.100000000000023" height="3.0999999999999943" fill="none" stroke="#9c4652" stroke-width="1.5"/>
<polyline points="603.2,218.6 610.4,218.6 610.4,233" fill="none" stroke="#6aac6c" stroke-width="1.2"/>
<line x1="596" y1="197" x2="596.6" y2="215" stroke="#9c4652" stroke-width="1"/>
<line x1="596.6" y1="215" x2="601.8" y2="224.2" stroke="#9c4652" stroke-width="1"/>
<line x1="601.8" y1="224.2" x2="598.8" y2="224.8" stroke="#9c4652" stroke-width="1"/>
<line x1="589" y1="225.3" x2="593" y2="225.3" stroke="#9c4652" stroke-width="1"/>
<polygon points="595,225.3 592,223.5 592,227.1" fill="#9c4652"/>
<text x="585.5" y="234.3" font-family="Liberation Sans" font-size="7" fill="#8c8c8c" text-anchor="start" font-weight="normal">10K</text>
<text x="588" y="240" font-family="Liberation Sans" font-size="7" fill="#8c8c8c" text-anchor="start" font-weight="normal">P5</text>
<text x="584" y="216" font-family="Liberation Sans" font-size="4.5" fill="#dca6ac" text-anchor="start" font-weight="normal">1</text>
<text x="606" y="216" font-family="Liberation Sans" font-size="4.5" fill="#dca6ac" text-anchor="start" font-weight="normal">3</text>
<text x="592" y="210" font-family="Liberation Sans" font-size="4.5" fill="#dca6ac" text-anchor="start" font-weight="normal">2</text>
<text x="546" y="233" font-family="Liberation Sans" font-size="6.9" fill="#3f9a3f" text-anchor="start" font-weight="normal" stroke="#4a9a4a" stroke-width="0.15">Threshold</text>
<rect x="603.75" y="194.6" width="13.5" height="4.800000000000011" fill="none" stroke="#9c4652" stroke-width="1.5"/>
<polyline points="618,197 639.6,197" fill="none" stroke="#6aac6c" stroke-width="1.2"/>
<circle cx="639.6" cy="197" r="1.45" fill="#3f7a4a"/>
<line x1="596" y1="197" x2="603" y2="197" stroke="#9c4652" stroke-width="1"/>
<text x="608" y="191.5" font-family="Liberation Sans" font-size="7" fill="#8c8c8c" text-anchor="start" font-weight="normal">22K</text>
<text x="608" y="206.5" font-family="Liberation Sans" font-size="7" fill="#8c8c8c" text-anchor="start" font-weight="normal">R20</text>
<rect x="608.0" y="233.75" width="4.7999999999999545" height="13.900000000000006" fill="none" stroke="#9c4652" stroke-width="1.5"/>
<polyline points="610.4,248.4 610.4,262.5" fill="none" stroke="#6aac6c" stroke-width="1.2"/>
<circle cx="610.4" cy="254.4" r="1.45" fill="#3f7a4a"/>
<line x1="610.4" y1="262.5" x2="610.4" y2="268.8" stroke="#6aac6c" stroke-width="1.2"/>
<polyline points="606.5,263.5 610.4,268.8 614.3,263.5" fill="none" stroke="#9c4652" stroke-width="1.4"/>
<text x="611.5" y="281.3" font-family="Liberation Sans" font-size="7" fill="#8c8c8c" text-anchor="middle" font-weight="normal">-5V</text>
<text x="605.9" y="251.1" font-family="Liberation Sans" font-size="7" fill="#8c8c8c" text-anchor="start" font-weight="normal" transform="rotate(-90 605.9 251.1)">R18</text>
<text x="620" y="251.2" font-family="Liberation Sans" font-size="7" fill="#8c8c8c" text-anchor="start" font-weight="normal" transform="rotate(-90 620 251.2)">47K</text>
<polygon points="646.4,168.1 646.4,197.3 675.6,182.7" fill="none" stroke="#9c4652" stroke-width="1.6" stroke-linejoin="miter"/>
<line x1="648.4" y1="175" x2="652.2" y2="175" stroke="#9c4652" stroke-width="1"/>
<line x1="650.3" y1="173.1" x2="650.3" y2="176.9" stroke="#9c4652" stroke-width="1"/>
<line x1="648.4" y1="189.4" x2="652.2" y2="189.4" stroke="#9c4652" stroke-width="1"/>
<polyline points="639.6,189.4 646.4,189.4" fill="none" stroke="#6aac6c" stroke-width="1.2"/>
<polyline points="639.6,189.4 639.6,254" fill="none" stroke="#6aac6c" stroke-width="1.2"/>
<text x="668" y="173" font-family="Liberation Sans" font-size="7" fill="#8c8c8c" text-anchor="start" font-weight="normal">IC3A</text>
<text x="668" y="196.5" font-family="Liberation Sans" font-size="7" fill="#8c8c8c" text-anchor="start" font-weight="normal">LM358N</text>
<text x="641" y="173" font-family="Liberation Sans" font-size="4.5" fill="#dca6ac" text-anchor="start" font-weight="normal">3</text>
<text x="641" y="187.5" font-family="Liberation Sans" font-size="4.5" fill="#dca6ac" text-anchor="start" font-weight="normal">2</text>
<text x="678" y="180" font-family="Liberation Sans" font-size="4.5" fill="#dca6ac" text-anchor="start" font-weight="normal">1</text>
<polyline points="675.6,182 697.6,182 697.6,254" fill="none" stroke="#6aac6c" stroke-width="1.2"/>
<circle cx="639.6" cy="211" r="1.45" fill="#3f7a4a"/>
<circle cx="697.6" cy="211" r="1.45" fill="#3f7a4a"/>
<circle cx="639.6" cy="232.4" r="1.45" fill="#3f7a4a"/>
<circle cx="697.6" cy="232.4" r="1.45" fill="#3f7a4a"/>
<polyline points="639.6,211 661,211" fill="none" stroke="#6aac6c" stroke-width="1.2"/>
<rect x="661.75" y="208.6" width="13.299999999999955" height="4.800000000000011" fill="none" stroke="#9c4652" stroke-width="1.5"/>
<polyline points="675.8,211 697.6,211" fill="none" stroke="#6aac6c" stroke-width="1.2"/>
<text x="658" y="206" font-family="Liberation Sans" font-size="7" fill="#8c8c8c" text-anchor="start" font-weight="normal">R22</text>
<text x="658" y="220.5" font-family="Liberation Sans" font-size="7" fill="#8c8c8c" text-anchor="start" font-weight="normal">100K</text>
<polyline points="639.6,232.4 670.6,232.4" fill="none" stroke="#6aac6c" stroke-width="1.2"/>
<rect x="669.65" y="226.9" width="1.900000000000091" height="11.0" fill="#9c4652"/>
<rect x="672.65" y="226.9" width="1.900000000000091" height="11.0" fill="#9c4652"/>
<polyline points="673.6,232.4 697.6,232.4" fill="none" stroke="#6aac6c" stroke-width="1.2"/>
<text x="666.7" y="252.3" font-family="Liberation Sans" font-size="7" fill="#8c8c8c" text-anchor="start" font-weight="normal" transform="rotate(-90 666.7 252.3)">100n</text>
<text x="681.3" y="246.3" font-family="Liberation Sans" font-size="7" fill="#8c8c8c" text-anchor="start" font-weight="normal" transform="rotate(-90 681.3 246.3)">C8</text>
<rect x="637.2" y="254.75" width="4.7999999999999545" height="14.100000000000023" fill="none" stroke="#9c4652" stroke-width="1.5"/>
<polyline points="639.6,269.6 639.6,290.4 581.6,290.4" fill="none" stroke="#6aac6c" stroke-width="1.2"/>
<circle cx="610.4" cy="290.4" r="1.45" fill="#3f7a4a"/>
<polyline points="610.4,290.4 610.4,298" fill="none" stroke="#6aac6c" stroke-width="1.2"/>
<line x1="604.4" y1="298" x2="616.4" y2="298" stroke="#9c4652" stroke-width="1.5"/>
<text x="610.4" y="305.2" font-family="Liberation Sans" font-size="6.8" fill="#8c8c8c" text-anchor="middle" font-weight="normal">GND</text>
<text x="634.3" y="259.2" font-family="Liberation Sans" font-size="7" fill="#8c8c8c" text-anchor="start" font-weight="normal" transform="rotate(-90 634.3 259.2)">1K</text>
<text x="648.9" y="264.3" font-family="Liberation Sans" font-size="7" fill="#8c8c8c" text-anchor="start" font-weight="normal" transform="rotate(-90 648.9 264.3)">R21</text>
<rect x="695.0" y="254.75" width="4.7999999999999545" height="14.100000000000023" fill="none" stroke="#9c4652" stroke-width="1.5"/>
<polyline points="697.4,269.6 697.4,294.4" fill="none" stroke="#6aac6c" stroke-width="1.2"/>
<polygon points="693.9,294.4 700.9,294.4 697.4,301" fill="none" stroke="#9c4652" stroke-width="1.4"/>
<line x1="693.9" y1="301" x2="700.9" y2="301" stroke="#9c4652" stroke-width="1.6"/>
<polyline points="697.4,301 697.4,457" fill="none" stroke="#6aac6c" stroke-width="1.2"/>
<text x="693.3" y="272.3" font-family="Liberation Sans" font-size="7" fill="#8c8c8c" text-anchor="start" font-weight="normal" transform="rotate(-90 693.3 272.3)">R23</text>
<text x="706.4" y="272.3" font-family="Liberation Sans" font-size="7" fill="#8c8c8c" text-anchor="start" font-weight="normal" transform="rotate(-90 706.4 272.3)">22K</text>
<text x="704.8" y="313.8" font-family="Liberation Sans" font-size="7" fill="#8c8c8c" text-anchor="start" font-weight="normal" transform="rotate(-90 704.8 313.8)">D3</text>
<text x="695.6" y="329.1" font-family="Liberation Sans" font-size="7" fill="#8c8c8c" text-anchor="start" font-weight="normal" transform="rotate(-90 695.6 329.1)">1N4148</text>
<line x1="740.5" y1="294.6" x2="740.5" y2="304.6" stroke="#6aac6c" stroke-width="1.2"/>
<polyline points="736.6,299.6 740.5,294.6 744.4,299.6" fill="none" stroke="#9c4652" stroke-width="1.4"/>
<polyline points="736.6,303.5 740.5,298.5 744.4,303.5" fill="none" stroke="#9c4652" stroke-width="1.4"/>
<text x="740" y="289" font-family="Liberation Sans" font-size="7" fill="#8c8c8c" text-anchor="middle" font-weight="normal">+12V</text>
<polyline points="740.5,295 740.5,341" fill="none" stroke="#6aac6c" stroke-width="1.2"/>
<circle cx="740.5" cy="312.8" r="1.45" fill="#3f7a4a"/>
<polyline points="740.5,312.8 762.4,312.8 762.4,317" fill="none" stroke="#6aac6c" stroke-width="1.2"/>
<line x1="759.3" y1="316.6" x2="765.7" y2="323.0" stroke="#9c4652" stroke-width="1.6"/>
<line x1="759.3" y1="323.0" x2="765.7" y2="316.6" stroke="#9c4652" stroke-width="1.6"/>
<text x="757" y="322.5" font-family="Liberation Sans" font-size="7" fill="#8c8c8c" text-anchor="start" font-weight="normal" transform="rotate(-90 757 322.5)">S1</text>
<text x="748" y="335" font-family="Liberation Sans" font-size="6.9" fill="#3f9a3f" text-anchor="start" font-weight="normal" stroke="#4a9a4a" stroke-width="0.15">Speaker</text>
<line x1="759.3" y1="338.3" x2="765.7" y2="344.7" stroke="#9c4652" stroke-width="1.6"/>
<line x1="759.3" y1="344.7" x2="765.7" y2="338.3" stroke="#9c4652" stroke-width="1.6"/>
<text x="773.5" y="346.5" font-family="Liberation Sans" font-size="7" fill="#8c8c8c" text-anchor="start" font-weight="normal" transform="rotate(-90 773.5 346.5)">S2</text>
<polyline points="762.4,343 762.4,348.2 744,348.2" fill="none" stroke="#6aac6c" stroke-width="1.2"/>
<rect x="738.85" y="341.75" width="4.199999999999932" height="13.699999999999989" fill="none" stroke="#9c4652" stroke-width="1.5"/>
<line x1="733.2" y1="352.5" x2="733.2" y2="357" stroke="#9c4652" stroke-width="1"/>
<polygon points="733.2,350.5 731.4,353.5 735,353.5" fill="#9c4652"/>
<line x1="734.5" y1="345" x2="737.5" y2="342" stroke="#9c4652" stroke-width="1"/>
<line x1="734.5" y1="342" x2="737.5" y2="342" stroke="#9c4652" stroke-width="1"/>
<text x="724.5" y="359.3" font-family="Liberation Sans" font-size="7" fill="#8c8c8c" text-anchor="start" font-weight="normal" transform="rotate(-90 724.5 359.3)">R33</text>
<text x="730" y="358.5" font-family="Liberation Sans" font-size="7" fill="#8c8c8c" text-anchor="start" font-weight="normal" transform="rotate(-90 730 358.5)">1K</text>
<polyline points="740.5,356.2 740.5,394" fill="none" stroke="#6aac6c" stroke-width="1.2"/>
<rect x="732.4" y="399.2" width="2.2000000000000455" height="14.100000000000023" fill="#9c4652"/>
<line x1="734.4" y1="402.5" x2="740.5" y2="398.2" stroke="#9c4652" stroke-width="1.5"/>
<line x1="740.5" y1="398.2" x2="740.5" y2="394" stroke="#9c4652" stroke-width="1.5"/>
<line x1="734.4" y1="410" x2="740.5" y2="414.2" stroke="#9c4652" stroke-width="1.5"/>
<polygon points="740.8,414.5 736.5,414.2 738.6,410.8" fill="#9c4652"/>
<polyline points="740.5,414.5 740.5,435" fill="none" stroke="#6aac6c" stroke-width="1.2"/>
<polyline points="646.8,406.3 732.4,406.3" fill="none" stroke="#6aac6c" stroke-width="1.2"/>
<circle cx="697.4" cy="406.3" r="1.45" fill="#3f7a4a"/>
<text x="705" y="384.7" font-family="Liberation Sans" font-size="7" fill="#8c8c8c" text-anchor="start" font-weight="normal">Q6</text>
<text x="705" y="392" font-family="Liberation Sans" font-size="7" fill="#8c8c8c" text-anchor="start" font-weight="normal">MPSA13</text>
<circle cx="740.5" cy="421.4" r="1.45" fill="#3f7a4a"/>
<polyline points="740.5,421.4 763,421.4 763,413.6" fill="none" stroke="#6aac6c" stroke-width="1.2"/>
<rect x="757.0" y="408.65000000000003" width="12.0" height="1.8999999999999773" fill="#9c4652"/>
<rect x="757.0" y="411.65000000000003" width="12.0" height="1.8999999999999773" fill="#9c4652"/>
<line x1="763" y1="408.6" x2="763" y2="389" stroke="#9c4652" stroke-width="1.1"/>
<polyline points="759.1,393.8 763,388.8 766.9,393.8" fill="none" stroke="#9c4652" stroke-width="1.4"/>
<polyline points="759.1,397.7 763,392.7 766.9,397.7" fill="none" stroke="#9c4652" stroke-width="1.4"/>
<text x="762" y="383.5" font-family="Liberation Sans" font-size="7" fill="#8c8c8c" text-anchor="middle" font-weight="normal">+12V</text>
<text x="767" y="405.5" font-family="Liberation Sans" font-size="7" fill="#8c8c8c" text-anchor="start" font-weight="normal">470p</text>
<text x="767" y="420.5" font-family="Liberation Sans" font-size="7" fill="#8c8c8c" text-anchor="start" font-weight="normal">C16</text>
<rect x="738.1" y="435.75" width="4.7999999999999545" height="14.5" fill="none" stroke="#9c4652" stroke-width="1.5"/>
<rect x="695.0" y="435.75" width="4.7999999999999545" height="14.5" fill="none" stroke="#9c4652" stroke-width="1.5"/>
<polyline points="697.4,451 697.4,457 740.5,457" fill="none" stroke="#6aac6c" stroke-width="1.2"/>
<polyline points="740.5,451 740.5,464.5" fill="none" stroke="#6aac6c" stroke-width="1.2"/>
<circle cx="740.5" cy="457" r="1.45" fill="#3f7a4a"/>
<line x1="734.5" y1="464.5" x2="746.5" y2="464.5" stroke="#9c4652" stroke-width="1.5"/>
<text x="740.5" y="471.7" font-family="Liberation Sans" font-size="6.8" fill="#8c8c8c" text-anchor="middle" font-weight="normal">GND</text>
<text x="693" y="453.5" font-family="Liberation Sans" font-size="7" fill="#8c8c8c" text-anchor="start" font-weight="normal" transform="rotate(-90 693 453.5)">R35</text>
<text x="706" y="453.5" font-family="Liberation Sans" font-size="7" fill="#8c8c8c" text-anchor="start" font-weight="normal" transform="rotate(-90 706 453.5)">100K</text>
<text x="736" y="453.5" font-family="Liberation Sans" font-size="7" fill="#8c8c8c" text-anchor="start" font-weight="normal" transform="rotate(-90 736 453.5)">R34</text>
<text x="749.5" y="452.5" font-family="Liberation Sans" font-size="7" fill="#8c8c8c" text-anchor="start" font-weight="normal" transform="rotate(-90 749.5 452.5)">150</text>
<polyline points="153.6,341.4 170.4,341.4" fill="none" stroke="#6aac6c" stroke-width="1.2"/>
<rect x="169.45000000000002" y="336.15" width="1.8999999999999773" height="10.5" fill="#9c4652"/>
<rect x="172.25" y="336.15" width="1.8999999999999773" height="10.5" fill="#9c4652"/>
<polyline points="173.2,341.4 240,341.4" fill="none" stroke="#6aac6c" stroke-width="1.2"/>
<circle cx="197.6" cy="341.4" r="1.45" fill="#3f7a4a"/>
<text x="167" y="337" font-family="Liberation Sans" font-size="7" fill="#8c8c8c" text-anchor="start" font-weight="normal" transform="rotate(-90 167 337)">C9</text>
<text x="181.5" y="336.3" font-family="Liberation Sans" font-size="7" fill="#8c8c8c" text-anchor="start" font-weight="normal" transform="rotate(-90 181.5 336.3)">1n</text>
<line x1="211.6" y1="263.2" x2="211.6" y2="273.2" stroke="#6aac6c" stroke-width="1.2"/>
<polyline points="207.7,268.2 211.6,263.2 215.5,268.2" fill="none" stroke="#9c4652" stroke-width="1.4"/>
<text x="212.5" y="259.5" font-family="Liberation Sans" font-size="7" fill="#8c8c8c" text-anchor="middle" font-weight="normal">+5V</text>
<polyline points="211.6,264 211.6,298 199.8,298" fill="none" stroke="#6aac6c" stroke-width="1.2"/>
<circle cx="211.6" cy="283" r="1.45" fill="#3f7a4a"/>
<polyline points="197.6,291 197.6,283 226.4,283 226.4,327 240,327" fill="none" stroke="#6aac6c" stroke-width="1.2"/>
<rect x="195.55" y="291.55" width="4.299999999999983" height="13.5" fill="none" stroke="#9c4652" stroke-width="1.5"/>
<line x1="192" y1="296" x2="202" y2="301" stroke="#9c4652" stroke-width="1"/>
<polygon points="193,293 192,296.5 195.5,296" fill="#9c4652"/>
<line x1="190.3" y1="300.5" x2="190.3" y2="305" stroke="#9c4652" stroke-width="1"/>
<polygon points="190.3,299 188.6,302 192,302" fill="#9c4652"/>
<polyline points="197.6,305.8 197.6,319.6" fill="none" stroke="#6aac6c" stroke-width="1.2"/>
<text x="169" y="290.6" font-family="Liberation Sans" font-size="6.9" fill="#3f9a3f" text-anchor="start" font-weight="normal" stroke="#4a9a4a" stroke-width="0.15">Delay</text>
<text x="180.5" y="308.3" font-family="Liberation Sans" font-size="7" fill="#8c8c8c" text-anchor="start" font-weight="normal" transform="rotate(-90 180.5 308.3)">P4</text>
<text x="186.3" y="304.5" font-family="Liberation Sans" font-size="7" fill="#8c8c8c" text-anchor="start" font-weight="normal" transform="rotate(-90 186.3 304.5)">150K</text>
<text x="203" y="292.5" font-family="Liberation Sans" font-size="4.5" fill="#dca6ac" text-anchor="start" font-weight="normal">2</text>
<rect x="195.2" y="320.35" width="4.800000000000011" height="13.099999999999966" fill="none" stroke="#9c4652" stroke-width="1.5"/>
<polyline points="197.6,334.2 197.6,341.4" fill="none" stroke="#6aac6c" stroke-width="1.2"/>
<text x="192.8" y="327.4" font-family="Liberation Sans" font-size="7" fill="#8c8c8c" text-anchor="start" font-weight="normal" transform="rotate(-90 192.8 327.4)">15K</text>
<text x="206.8" y="328.6" font-family="Liberation Sans" font-size="7" fill="#8c8c8c" text-anchor="start" font-weight="normal" transform="rotate(-90 206.8 328.6)">R25</text>
<path d="M240.3,319.8 L241.70000000000002,319.8 A12.900000000000006,14.400000000000006 0 0 1 241.70000000000002,348.6 L240.3,348.6 Z" fill="none" stroke="#9c4652" stroke-width="1.6"/>
<polyline points="242.5,337.20000000000005 247.8,337.20000000000005 253.0,331.40000000000003" fill="none" stroke="#9c4652" stroke-width="1"/>
<polyline points="245.4,337.20000000000005 250.60000000000002,331.40000000000003 253.9,331.40000000000003" fill="none" stroke="#9c4652" stroke-width="1"/>
<circle cx="257.5" cy="334.20000000000005" r="2.6" fill="none" stroke="#9c4652" stroke-width="1.2"/>
<polyline points="260.6,334.5 287,334.5" fill="none" stroke="#6aac6c" stroke-width="1.2"/>
<circle cx="270" cy="334.5" r="1.45" fill="#3f7a4a"/>
<text x="255.5" y="324" font-family="Liberation Sans" font-size="7" fill="#8c8c8c" text-anchor="start" font-weight="normal">4093N</text>
<text x="256" y="348" font-family="Liberation Sans" font-size="7" fill="#8c8c8c" text-anchor="start" font-weight="normal">IC4C</text>
<text x="232" y="324.5" font-family="Liberation Sans" font-size="4.5" fill="#dca6ac" text-anchor="start" font-weight="normal">9</text>
<text x="232" y="339" font-family="Liberation Sans" font-size="4.5" fill="#dca6ac" text-anchor="start" font-weight="normal">8</text>
<text x="264" y="332" font-family="Liberation Sans" font-size="4.5" fill="#dca6ac" text-anchor="start" font-weight="normal">10</text>
<rect x="286.05" y="329.25" width="1.8999999999999773" height="10.5" fill="#9c4652"/>
<rect x="288.85" y="329.25" width="1.8999999999999773" height="10.5" fill="#9c4652"/>
<polyline points="289.8,334.5 342,334.5" fill="none" stroke="#6aac6c" stroke-width="1.2"/>
<circle cx="313.4" cy="334.5" r="1.45" fill="#3f7a4a"/>
<text x="284.1" y="330.2" font-family="Liberation Sans" font-size="7" fill="#8c8c8c" text-anchor="start" font-weight="normal" transform="rotate(-90 284.1 330.2)">C10</text>
<text x="297.3" y="330.2" font-family="Liberation Sans" font-size="7" fill="#8c8c8c" text-anchor="start" font-weight="normal" transform="rotate(-90 297.3 330.2)">1n</text>
<line x1="313.4" y1="284" x2="313.4" y2="294" stroke="#6aac6c" stroke-width="1.2"/>
<polyline points="309.5,289 313.4,284 317.29999999999995,289" fill="none" stroke="#9c4652" stroke-width="1.4"/>
<text x="314" y="280.5" font-family="Liberation Sans" font-size="7" fill="#8c8c8c" text-anchor="middle" font-weight="normal">+5V</text>
<polyline points="313.4,284.8 313.4,312" fill="none" stroke="#6aac6c" stroke-width="1.2"/>
<circle cx="313.4" cy="297.6" r="1.45" fill="#3f7a4a"/>
<polyline points="313.4,297.6 328,297.6 328,319.4 342,319.4" fill="none" stroke="#6aac6c" stroke-width="1.2"/>
<rect x="311.0" y="312.75" width="4.7999999999999545" height="14.300000000000011" fill="none" stroke="#9c4652" stroke-width="1.5"/>
<polyline points="313.4,327.8 313.4,334.5" fill="none" stroke="#6aac6c" stroke-width="1.2"/>
<text x="309.3" y="330.7" font-family="Liberation Sans" font-size="7" fill="#8c8c8c" text-anchor="start" font-weight="normal" transform="rotate(-90 309.3 330.7)">R28</text>
<text x="323.2" y="330.7" font-family="Liberation Sans" font-size="7" fill="#8c8c8c" text-anchor="start" font-weight="normal" transform="rotate(-90 323.2 330.7)">51K</text>
<path d="M342,312.4 L343.4,312.4 A12.900000000000034,14.600000000000023 0 0 1 343.4,341.6 L342,341.6 Z" fill="none" stroke="#9c4652" stroke-width="1.6"/>
<polyline points="344.2,324.0 349.5,324.0 354.7,329.8" fill="none" stroke="#9c4652" stroke-width="1"/>
<polyline points="347.1,324.0 352.3,329.8 355.6,329.8" fill="none" stroke="#9c4652" stroke-width="1"/>
<circle cx="359.2" cy="327.0" r="2.6" fill="none" stroke="#9c4652" stroke-width="1.2"/>
<polyline points="362,327 379,327 379,326.8" fill="none" stroke="#6aac6c" stroke-width="1.2"/>
<text x="357" y="318.5" font-family="Liberation Sans" font-size="7" fill="#8c8c8c" text-anchor="start" font-weight="normal">IC4A</text>
<text x="357" y="342.5" font-family="Liberation Sans" font-size="7" fill="#8c8c8c" text-anchor="start" font-weight="normal">4093N</text>
<text x="334" y="317.5" font-family="Liberation Sans" font-size="4.5" fill="#dca6ac" text-anchor="start" font-weight="normal">1</text>
<text x="334" y="332" font-family="Liberation Sans" font-size="4.5" fill="#dca6ac" text-anchor="start" font-weight="normal">2</text>
<text x="364" y="324" font-family="Liberation Sans" font-size="4.5" fill="#dca6ac" text-anchor="start" font-weight="normal">3</text>
<polyline points="270,334.5 270,399.4 286.4,399.4" fill="none" stroke="#6aac6c" stroke-width="1.2"/>
<rect x="285.45" y="394.15" width="1.8999999999999773" height="10.5" fill="#9c4652"/>
<rect x="288.05" y="394.15" width="1.8999999999999773" height="10.5" fill="#9c4652"/>
<polyline points="289,399.4 342,399.4" fill="none" stroke="#6aac6c" stroke-width="1.2"/>
<circle cx="313.6" cy="399.4" r="1.45" fill="#3f7a4a"/>
<text x="283.8" y="396.4" font-family="Liberation Sans" font-size="7" fill="#8c8c8c" text-anchor="start" font-weight="normal" transform="rotate(-90 283.8 396.4)">C11</text>
<text x="297.3" y="397.3" font-family="Liberation Sans" font-size="7" fill="#8c8c8c" text-anchor="start" font-weight="normal" transform="rotate(-90 297.3 397.3)">1n</text>
<line x1="313.6" y1="349.2" x2="313.6" y2="359.2" stroke="#6aac6c" stroke-width="1.2"/>
<polyline points="309.70000000000005,354.2 313.6,349.2 317.5,354.2" fill="none" stroke="#9c4652" stroke-width="1.4"/>
<text x="305.9" y="361.6" font-family="Liberation Sans" font-size="7" fill="#8c8c8c" text-anchor="start" font-weight="normal" transform="rotate(-90 305.9 361.6)">+5V</text>
<polyline points="313.6,350 313.6,377.6" fill="none" stroke="#6aac6c" stroke-width="1.2"/>
<circle cx="313.6" cy="363.4" r="1.45" fill="#3f7a4a"/>
<polyline points="313.6,363.4 327.4,363.4 327.4,385 342,385" fill="none" stroke="#6aac6c" stroke-width="1.2"/>
<rect x="311.20000000000005" y="378.35" width="4.7999999999999545" height="13.5" fill="none" stroke="#9c4652" stroke-width="1.5"/>
<polyline points="313.6,392.6 313.6,399.4" fill="none" stroke="#6aac6c" stroke-width="1.2"/>
<text x="308.9" y="396.4" font-family="Liberation Sans" font-size="7" fill="#8c8c8c" text-anchor="start" font-weight="normal" transform="rotate(-90 308.9 396.4)">R28</text>
<text x="323.2" y="398.1" font-family="Liberation Sans" font-size="7" fill="#8c8c8c" text-anchor="start" font-weight="normal" transform="rotate(-90 323.2 398.1)">240K</text>
<path d="M342,378 L343.4,378 A12.900000000000034,14.5 0 0 1 343.4,407 L342,407 Z" fill="none" stroke="#9c4652" stroke-width="1.6"/>
<polyline points="344.2,389.5 349.5,389.5 354.7,395.3" fill="none" stroke="#9c4652" stroke-width="1"/>
<polyline points="347.1,389.5 352.3,395.3 355.6,395.3" fill="none" stroke="#9c4652" stroke-width="1"/>
<circle cx="359.2" cy="392.5" r="2.6" fill="none" stroke="#9c4652" stroke-width="1.2"/>
<polyline points="363,392.4 400,392.4" fill="none" stroke="#6aac6c" stroke-width="1.2"/>
<text x="357" y="383.5" font-family="Liberation Sans" font-size="7" fill="#8c8c8c" text-anchor="start" font-weight="normal">IC4D</text>
<text x="357" y="406.5" font-family="Liberation Sans" font-size="7" fill="#8c8c8c" text-anchor="start" font-weight="normal">4093N</text>
<text x="331" y="383" font-family="Liberation Sans" font-size="4.5" fill="#dca6ac" text-anchor="start" font-weight="normal">12</text>
<text x="331" y="397.5" font-family="Liberation Sans" font-size="4.5" fill="#dca6ac" text-anchor="start" font-weight="normal">13</text>
<text x="366" y="390" font-family="Liberation Sans" font-size="4.5" fill="#dca6ac" text-anchor="start" font-weight="normal">11</text>
<line x1="400" y1="320.2" x2="400" y2="330.2" stroke="#6aac6c" stroke-width="1.2"/>
<polyline points="396.1,325.2 400,320.2 403.9,325.2" fill="none" stroke="#9c4652" stroke-width="1.4"/>
<text x="400.5" y="317" font-family="Liberation Sans" font-size="7" fill="#8c8c8c" text-anchor="middle" font-weight="normal">+5V</text>
<polyline points="400,321 400,349" fill="none" stroke="#6aac6c" stroke-width="1.2"/>
<circle cx="400" cy="341.6" r="1.45" fill="#3f7a4a"/>
<polyline points="400,341.6 428.6,341.6" fill="none" stroke="#6aac6c" stroke-width="1.2"/>
<rect x="397.6" y="349.75" width="4.7999999999999545" height="13.300000000000011" fill="none" stroke="#9c4652" stroke-width="1.5"/>
<polyline points="400,363.8 400,379" fill="none" stroke="#6aac6c" stroke-width="1.2"/>
<circle cx="400" cy="370.4" r="1.45" fill="#3f7a4a"/>
<polyline points="400,370.4 414.8,370.4 414.8,356.2 428.6,356.2" fill="none" stroke="#6aac6c" stroke-width="1.2"/>
<text x="396" y="367" font-family="Liberation Sans" font-size="7" fill="#8c8c8c" text-anchor="start" font-weight="normal" transform="rotate(-90 396 367)">R29</text>
<text x="409.8" y="366.6" font-family="Liberation Sans" font-size="7" fill="#8c8c8c" text-anchor="start" font-weight="normal" transform="rotate(-90 409.8 366.6)">51K</text>
<rect x="393.7" y="379.35" width="12.600000000000023" height="1.8999999999999773" fill="#9c4652"/>
<rect x="393.7" y="382.35" width="12.600000000000023" height="1.8999999999999773" fill="#9c4652"/>
<polyline points="400,384.3 400,392.4" fill="none" stroke="#6aac6c" stroke-width="1.2"/>
<circle cx="400" cy="392.4" r="1.45" fill="#3f7a4a"/>
<text x="405.5" y="376.6" font-family="Liberation Sans" font-size="7" fill="#8c8c8c" text-anchor="start" font-weight="normal">1n</text>
<text x="405" y="391.5" font-family="Liberation Sans" font-size="7" fill="#8c8c8c" text-anchor="start" font-weight="normal">C12</text>
<polyline points="400,392.4 530.4,392.4" fill="none" stroke="#6aac6c" stroke-width="1.2"/>
<path d="M428.6,334.4 L430.0,334.4 A12.900000000000034,14.600000000000023 0 0 1 430.0,363.6 L428.6,363.6 Z" fill="none" stroke="#9c4652" stroke-width="1.6"/>
<polyline points="430.8,346.0 436.1,346.0 441.3,351.8" fill="none" stroke="#9c4652" stroke-width="1"/>
<polyline points="433.70000000000005,346.0 438.90000000000003,351.8 442.20000000000005,351.8" fill="none" stroke="#9c4652" stroke-width="1"/>
<circle cx="445.8" cy="349.0" r="2.6" fill="none" stroke="#9c4652" stroke-width="1.2"/>
<polyline points="449,348.6 458.6,348.6" fill="none" stroke="#6aac6c" stroke-width="1.2"/>
<text x="444" y="339" font-family="Liberation Sans" font-size="7" fill="#8c8c8c" text-anchor="start" font-weight="normal">IC4B</text>
<text x="444" y="363" font-family="Liberation Sans" font-size="7" fill="#8c8c8c" text-anchor="start" font-weight="normal">4093N</text>
<text x="420" y="339" font-family="Liberation Sans" font-size="4.5" fill="#dca6ac" text-anchor="start" font-weight="normal">6</text>
<text x="420" y="353.5" font-family="Liberation Sans" font-size="4.5" fill="#dca6ac" text-anchor="start" font-weight="normal">5</text>
<text x="451" y="346" font-family="Liberation Sans" font-size="4.5" fill="#dca6ac" text-anchor="start" font-weight="normal">4</text>
<rect x="530.95" y="370.95" width="43.299999999999955" height="28.100000000000023" fill="none" stroke="#9c4652" stroke-width="1.5"/>
<text x="531" y="368.5" font-family="Liberation Sans" font-size="7" fill="#8c8c8c" text-anchor="start" font-weight="normal">IC7D</text>
<text x="531" y="406.5" font-family="Liberation Sans" font-size="7" fill="#8c8c8c" text-anchor="start" font-weight="normal">4066N</text>
<text x="537.5" y="380.5" font-family="Liberation Sans" font-size="6" fill="#c4c4c4" text-anchor="start" font-weight="normal">A</text>
<text x="563.5" y="380.5" font-family="Liberation Sans" font-size="6" fill="#c4c4c4" text-anchor="start" font-weight="normal">B</text>
<text x="537.5" y="395" font-family="Liberation Sans" font-size="6" fill="#c4c4c4" text-anchor="start" font-weight="normal">C</text>
<text x="518" y="376" font-family="Liberation Sans" font-size="4.5" fill="#dca6ac" text-anchor="start" font-weight="normal">11</text>
<text x="518" y="390.5" font-family="Liberation Sans" font-size="4.5" fill="#dca6ac" text-anchor="start" font-weight="normal">12</text>
<text x="582" y="376" font-family="Liberation Sans" font-size="4.5" fill="#dca6ac" text-anchor="start" font-weight="normal">10</text>
<polyline points="530.2,377.7 508.7,377.7 508.7,356 646.8,356 646.8,406.3" fill="none" stroke="#6aac6c" stroke-width="1.2"/>
<polyline points="575,377.7 595.7,377.7 595.7,399.6" fill="none" stroke="#6aac6c" stroke-width="1.2"/>
<line x1="589.7" y1="399.6" x2="601.7" y2="399.6" stroke="#9c4652" stroke-width="1.5"/>
<text x="595.7" y="406.8" font-family="Liberation Sans" font-size="6.8" fill="#8c8c8c" text-anchor="middle" font-weight="normal">GND</text>
<line x1="52.4" y1="426" x2="52.4" y2="436" stroke="#6aac6c" stroke-width="1.2"/>
<polyline points="48.5,431 52.4,426 56.3,431" fill="none" stroke="#9c4652" stroke-width="1.4"/>
<polyline points="48.5,434.9 52.4,429.9 56.3,434.9" fill="none" stroke="#9c4652" stroke-width="1.4"/>
<text x="52" y="419.5" font-family="Liberation Sans" font-size="7" fill="#8c8c8c" text-anchor="middle" font-weight="normal">+12V</text>
<polyline points="52.4,427 52.4,492" fill="none" stroke="#6aac6c" stroke-width="1.2"/>
<circle cx="52.4" cy="450.2" r="1.45" fill="#3f7a4a"/>
<polyline points="52.4,450.2 110,450.2" fill="none" stroke="#6aac6c" stroke-width="1.2"/>
<circle cx="89" cy="450.2" r="1.45" fill="#3f7a4a"/>
<line x1="49.199999999999996" y1="490.40000000000003" x2="55.6" y2="496.8" stroke="#9c4652" stroke-width="1.6"/>
<line x1="49.199999999999996" y1="496.8" x2="55.6" y2="490.40000000000003" stroke="#9c4652" stroke-width="1.6"/>
<text x="47.4" y="496.5" font-family="Liberation Sans" font-size="7" fill="#8c8c8c" text-anchor="start" font-weight="normal" transform="rotate(-90 47.4 496.5)">BAT+</text>
<text x="62.2" y="496.5" font-family="Liberation Sans" font-size="7" fill="#8c8c8c" text-anchor="start" font-weight="normal" transform="rotate(-90 62.2 496.5)">+12V</text>
<text x="17" y="507.8" font-family="Liberation Sans" font-size="6.9" fill="#3f9a3f" text-anchor="start" font-weight="normal" stroke="#4a9a4a" stroke-width="0.15">12v Battery &amp; Switch</text>
<line x1="49.199999999999996" y1="512.4" x2="55.6" y2="518.8000000000001" stroke="#9c4652" stroke-width="1.6"/>
<line x1="49.199999999999996" y1="518.8000000000001" x2="55.6" y2="512.4" stroke="#9c4652" stroke-width="1.6"/>
<text x="48" y="519.5" font-family="Liberation Sans" font-size="7" fill="#8c8c8c" text-anchor="start" font-weight="normal" transform="rotate(-90 48 519.5)">0V</text>
<text x="63.4" y="527.4" font-family="Liberation Sans" font-size="7" fill="#8c8c8c" text-anchor="start" font-weight="normal" transform="rotate(-90 63.4 527.4)">BAT-</text>
<polyline points="52.4,517.5 52.4,573.6 342.5,573.6" fill="none" stroke="#6aac6c" stroke-width="1.2"/>
<circle cx="89" cy="573.6" r="1.45" fill="#3f7a4a"/>
<circle cx="132" cy="573.6" r="1.45" fill="#3f7a4a"/>
<circle cx="168.4" cy="573.6" r="1.45" fill="#3f7a4a"/>
<circle cx="190.3" cy="573.6" r="1.45" fill="#3f7a4a"/>
<circle cx="291.6" cy="573.6" r="1.45" fill="#3f7a4a"/>
<polyline points="89,450.2 89,533.6" fill="none" stroke="#6aac6c" stroke-width="1.2"/>
<polyline points="89,541 89,573.6" fill="none" stroke="#6aac6c" stroke-width="1.2"/>
<polygon points="84.8,540.8 92.8,540.8 88.8,533.3" fill="none" stroke="#9c4652" stroke-width="1.4"/>
<line x1="84.8" y1="533.3" x2="92.8" y2="533.3" stroke="#9c4652" stroke-width="1.6"/>
<text x="87.4" y="529.8" font-family="Liberation Sans" font-size="7" fill="#8c8c8c" text-anchor="start" font-weight="normal" transform="rotate(-90 87.4 529.8)">D6</text>
<text x="95.6" y="529.8" font-family="Liberation Sans" font-size="7" fill="#8c8c8c" text-anchor="start" font-weight="normal" transform="rotate(-90 95.6 529.8)">1N4001</text>
<rect x="110.35" y="443.25" width="43.30000000000001" height="20.80000000000001" fill="none" stroke="#9c4652" stroke-width="1.5"/>
<text x="110" y="433.5" font-family="Liberation Sans" font-size="7" fill="#8c8c8c" text-anchor="start" font-weight="normal">IC5</text>
<text x="110" y="441" font-family="Liberation Sans" font-size="7" fill="#8c8c8c" text-anchor="start" font-weight="normal">7805L</text>
<text x="117" y="452.5" font-family="Liberation Sans" font-size="6" fill="#c4c4c4" text-anchor="start" font-weight="normal">VI</text>
<text x="140" y="452.5" font-family="Liberation Sans" font-size="6" fill="#c4c4c4" text-anchor="start" font-weight="normal">VO</text>
<text x="127" y="462" font-family="Liberation Sans" font-size="6" fill="#c4c4c4" text-anchor="start" font-weight="normal">GND</text>
<polyline points="132,464.8 132,573.6" fill="none" stroke="#6aac6c" stroke-width="1.2"/>
<polyline points="154.4,450.4 233.6,450.4 233.6,479.4" fill="none" stroke="#6aac6c" stroke-width="1.2"/>
<circle cx="168.4" cy="450.4" r="1.45" fill="#3f7a4a"/>
<circle cx="197.5" cy="450.4" r="1.45" fill="#3f7a4a"/>
<line x1="197.5" y1="429.2" x2="197.5" y2="439.2" stroke="#6aac6c" stroke-width="1.2"/>
<polyline points="193.6,434.2 197.5,429.2 201.4,434.2" fill="none" stroke="#9c4652" stroke-width="1.4"/>
<text x="198" y="426" font-family="Liberation Sans" font-size="7" fill="#8c8c8c" text-anchor="middle" font-weight="normal">+5V</text>
<polyline points="197.5,430 197.5,450.4" fill="none" stroke="#6aac6c" stroke-width="1.2"/>
<polyline points="168.4,450.4 168.4,537" fill="none" stroke="#6aac6c" stroke-width="1.2"/>
<rect x="164.15" y="537.3499999999999" width="8.9" height="2.1000000000000454" fill="none" stroke="#9c4652" stroke-width="1.1"/>
<rect x="163.6" y="541.9" width="10.0" height="2.400000000000091" fill="#9c4652"/>
<polyline points="168.4,544.8 168.4,573.6" fill="none" stroke="#6aac6c" stroke-width="1.2"/>
<text x="152" y="535.6" font-family="Liberation Sans" font-size="7" fill="#8c8c8c" text-anchor="start" font-weight="normal">C13</text>
<text x="150" y="550.3" font-family="Liberation Sans" font-size="7" fill="#8c8c8c" text-anchor="start" font-weight="normal">220u</text>
<text x="171.5" y="536" font-family="Liberation Sans" font-size="5" fill="#8c8c8c" text-anchor="start" font-weight="normal">+</text>
<rect x="212.15" y="479.35" width="57.29999999999998" height="50.10000000000002" fill="none" stroke="#9c4652" stroke-width="1.5"/>
<text x="209.9" y="530.1" font-family="Liberation Sans" font-size="7.5" fill="#8c8c8c" text-anchor="start" font-weight="normal" transform="rotate(-90 209.9 530.1)">ICL7660CPA</text>
<text x="277.5" y="529.2" font-family="Liberation Sans" font-size="7" fill="#8c8c8c" text-anchor="start" font-weight="normal" transform="rotate(-90 277.5 529.2)">IC6</text>
<text x="221.5" y="497" font-family="Liberation Sans" font-size="6" fill="#c4c4c4" text-anchor="start" font-weight="normal" transform="rotate(-90 221.5 497)">GND</text>
<text x="235.7" y="493" font-family="Liberation Sans" font-size="6" fill="#c4c4c4" text-anchor="start" font-weight="normal" transform="rotate(-90 235.7 493)">V+</text>
<text x="249.7" y="497" font-family="Liberation Sans" font-size="6" fill="#c4c4c4" text-anchor="start" font-weight="normal" transform="rotate(-90 249.7 497)">OSC</text>
<text x="264.3" y="500" font-family="Liberation Sans" font-size="6" fill="#c4c4c4" text-anchor="start" font-weight="normal" transform="rotate(-90 264.3 500)">VOUT</text>
<text x="221.5" y="525" font-family="Liberation Sans" font-size="6" fill="#c4c4c4" text-anchor="start" font-weight="normal" transform="rotate(-90 221.5 525)">NC</text>
<text x="235.7" y="527" font-family="Liberation Sans" font-size="6" fill="#c4c4c4" text-anchor="start" font-weight="normal" transform="rotate(-90 235.7 527)">CAP-</text>
<text x="249.7" y="527" font-family="Liberation Sans" font-size="6" fill="#c4c4c4" text-anchor="start" font-weight="normal" transform="rotate(-90 249.7 527)">CAP+</text>
<text x="264.3" y="525" font-family="Liberation Sans" font-size="6" fill="#c4c4c4" text-anchor="start" font-weight="normal" transform="rotate(-90 264.3 525)">LV</text>
<polyline points="219.4,479 219.4,465 190.4,465 190.4,580.5" fill="none" stroke="#6aac6c" stroke-width="1.2"/>
<line x1="184.3" y1="580.5" x2="196.3" y2="580.5" stroke="#9c4652" stroke-width="1.5"/>
<text x="190.3" y="587.7" font-family="Liberation Sans" font-size="6.8" fill="#8c8c8c" text-anchor="middle" font-weight="normal">GND</text>
<polyline points="247.9,479 247.9,450.4 342.5,450.4 342.5,538.6" fill="none" stroke="#6aac6c" stroke-width="1.2"/>
<polyline points="262.2,479 262.2,465 320.3,465 320.3,494" fill="none" stroke="#6aac6c" stroke-width="1.2"/>
<circle cx="291.8" cy="465" r="1.45" fill="#3f7a4a"/>
<polyline points="291.8,465 291.8,536" fill="none" stroke="#6aac6c" stroke-width="1.2"/>
<circle cx="320.3" cy="497.6" r="3.6" fill="none" stroke="#9c4652" stroke-width="1.2"/>
<line x1="318.3" y1="497.6" x2="322.3" y2="497.6" stroke="#9c4652" stroke-width="1"/>
<text x="320" y="508" font-family="Liberation Sans" font-size="7" fill="#8c8c8c" text-anchor="middle" font-weight="normal">-5V</text>
<line x1="218.6" y1="530.2" x2="218.6" y2="544.5" stroke="#d8c0c4" stroke-width="1"/>
<line x1="262.5" y1="530.2" x2="262.5" y2="544.5" stroke="#d8c0c4" stroke-width="1"/>
<polyline points="233.5,530.2 233.5,544.5 226.7,544.5 226.7,566.5 234,566.5" fill="none" stroke="#6aac6c" stroke-width="1.2"/>
<polyline points="241.5,566.5 248,566.5 248,530.2" fill="none" stroke="#6aac6c" stroke-width="1.2"/>
<rect x="233.8" y="561.8" width="2.799999999999983" height="9.400000000000091" fill="#9c4652"/>
<rect x="239.15" y="562.3499999999999" width="1.9" height="8.300000000000091" fill="none" stroke="#9c4652" stroke-width="1.1"/>
<text x="232.7" y="563" font-family="Liberation Sans" font-size="7" fill="#8c8c8c" text-anchor="start" font-weight="normal" transform="rotate(-90 232.7 563)">220u</text>
<text x="247.8" y="563" font-family="Liberation Sans" font-size="7" fill="#8c8c8c" text-anchor="start" font-weight="normal" transform="rotate(-90 247.8 563)">C14</text>
<text x="242.5" y="572" font-family="Liberation Sans" font-size="5" fill="#8c8c8c" text-anchor="start" font-weight="normal">+</text>
<rect x="286.8" y="537.4" width="9.600000000000023" height="2.400000000000091" fill="#9c4652"/>
<rect x="287.35" y="542.3499999999999" width="8.500000000000023" height="2.1000000000000454" fill="none" stroke="#9c4652" stroke-width="1.1"/>
<polyline points="291.6,544 291.6,573.6" fill="none" stroke="#6aac6c" stroke-width="1.2"/>
<text x="295" y="536.5" font-family="Liberation Sans" font-size="7" fill="#8c8c8c" text-anchor="start" font-weight="normal">220u</text>
<text x="295" y="550.5" font-family="Liberation Sans" font-size="7" fill="#8c8c8c" text-anchor="start" font-weight="normal">C15</text>
<text x="286" y="549" font-family="Liberation Sans" font-size="5" fill="#8c8c8c" text-anchor="start" font-weight="normal">+</text>
<rect x="336.5" y="538.65" width="12.0" height="1.900000000000091" fill="#9c4652"/>
<rect x="336.5" y="541.65" width="12.0" height="1.900000000000091" fill="#9c4652"/>
<polyline points="342.5,543.6 342.5,573.6" fill="none" stroke="#6aac6c" stroke-width="1.2"/>
<text x="322" y="536.5" font-family="Liberation Sans" font-size="7" fill="#8c8c8c" text-anchor="start" font-weight="normal">220p</text>
<text x="325" y="550.5" font-family="Liberation Sans" font-size="7" fill="#8c8c8c" text-anchor="start" font-weight="normal">C17</text>
<line x1="400" y1="429" x2="400" y2="450" stroke="#9c4652" stroke-width="1.2"/>
<polyline points="396.1,433.6 400,428.6 403.9,433.6" fill="none" stroke="#9c4652" stroke-width="1.4"/>
<line x1="400" y1="464" x2="400" y2="486" stroke="#9c4652" stroke-width="1.2"/>
<polyline points="396.1,481.0 400,486.6 403.9,481.0" fill="none" stroke="#9c4652" stroke-width="1.4"/>
<text x="396.3" y="459.8" font-family="Liberation Sans" font-size="7" fill="#8c8c8c" text-anchor="start" font-weight="normal">IC4P</text>
<text x="394.6" y="442.5" font-family="Liberation Sans" font-size="7" fill="#8c8c8c" text-anchor="start" font-weight="normal" transform="rotate(-90 394.6 442.5)">+5V</text>
<text x="394" y="494" font-family="Liberation Sans" font-size="7" fill="#8c8c8c" text-anchor="start" font-weight="normal" transform="rotate(-90 394 494)">-5V</text>
<text x="398" y="446" font-family="Liberation Sans" font-size="4.5" fill="#dca6ac" text-anchor="start" font-weight="normal" transform="rotate(-90 398 446)">14</text>
<text x="405" y="449" font-family="Liberation Sans" font-size="4.5" fill="#c4c4c4" text-anchor="start" font-weight="normal" transform="rotate(-90 405 449)">VDD</text>
<text x="398" y="477" font-family="Liberation Sans" font-size="4.5" fill="#dca6ac" text-anchor="start" font-weight="normal" transform="rotate(-90 398 477)">7</text>
<text x="405" y="476" font-family="Liberation Sans" font-size="4.5" fill="#c4c4c4" text-anchor="start" font-weight="normal" transform="rotate(-90 405 476)">VSS</text>
<line x1="429.1" y1="429" x2="429.1" y2="450" stroke="#9c4652" stroke-width="1.2"/>
<polyline points="425.20000000000005,433.6 429.1,428.6 433.0,433.6" fill="none" stroke="#9c4652" stroke-width="1.4"/>
<line x1="429.1" y1="464" x2="429.1" y2="486" stroke="#9c4652" stroke-width="1.2"/>
<polyline points="425.20000000000005,481.0 429.1,486.6 433.0,481.0" fill="none" stroke="#9c4652" stroke-width="1.4"/>
<text x="429.6" y="457.6" font-family="Liberation Sans" font-size="7" fill="#8c8c8c" text-anchor="start" font-weight="normal">IC3P</text>
<text x="423.70000000000005" y="442.5" font-family="Liberation Sans" font-size="7" fill="#8c8c8c" text-anchor="start" font-weight="normal" transform="rotate(-90 423.70000000000005 442.5)">+5V</text>
<text x="423.1" y="494" font-family="Liberation Sans" font-size="7" fill="#8c8c8c" text-anchor="start" font-weight="normal" transform="rotate(-90 423.1 494)">-5V</text>
<text x="427.1" y="446" font-family="Liberation Sans" font-size="4.5" fill="#dca6ac" text-anchor="start" font-weight="normal" transform="rotate(-90 427.1 446)">14</text>
<text x="434.1" y="449" font-family="Liberation Sans" font-size="4.5" fill="#c4c4c4" text-anchor="start" font-weight="normal" transform="rotate(-90 434.1 449)">VDD</text>
<text x="427.1" y="477" font-family="Liberation Sans" font-size="4.5" fill="#dca6ac" text-anchor="start" font-weight="normal" transform="rotate(-90 427.1 477)">7</text>
<text x="434.1" y="476" font-family="Liberation Sans" font-size="4.5" fill="#c4c4c4" text-anchor="start" font-weight="normal" transform="rotate(-90 434.1 476)">VSS</text>
<line x1="458" y1="429" x2="458" y2="450" stroke="#9c4652" stroke-width="1.2"/>
<polyline points="454.1,433.6 458,428.6 461.9,433.6" fill="none" stroke="#9c4652" stroke-width="1.4"/>
<line x1="458" y1="464" x2="458" y2="486" stroke="#9c4652" stroke-width="1.2"/>
<polyline points="454.1,481.0 458,486.6 461.9,481.0" fill="none" stroke="#9c4652" stroke-width="1.4"/>
<text x="454.5" y="459.6" font-family="Liberation Sans" font-size="7" fill="#8c8c8c" text-anchor="start" font-weight="normal">IC7P</text>
<text x="452.6" y="442.5" font-family="Liberation Sans" font-size="7" fill="#8c8c8c" text-anchor="start" font-weight="normal" transform="rotate(-90 452.6 442.5)">+5V</text>
<text x="452" y="494" font-family="Liberation Sans" font-size="7" fill="#8c8c8c" text-anchor="start" font-weight="normal" transform="rotate(-90 452 494)">-5V</text>
<text x="456" y="446" font-family="Liberation Sans" font-size="4.5" fill="#dca6ac" text-anchor="start" font-weight="normal" transform="rotate(-90 456 446)">14</text>
<text x="463" y="449" font-family="Liberation Sans" font-size="4.5" fill="#c4c4c4" text-anchor="start" font-weight="normal" transform="rotate(-90 463 449)">VDD</text>
<text x="456" y="477" font-family="Liberation Sans" font-size="4.5" fill="#dca6ac" text-anchor="start" font-weight="normal" transform="rotate(-90 456 477)">7</text>
<text x="463" y="476" font-family="Liberation Sans" font-size="4.5" fill="#c4c4c4" text-anchor="start" font-weight="normal" transform="rotate(-90 463 476)">VSS</text>
<rect x="400.75" y="530.25" width="42.5" height="28.0" fill="none" stroke="#9c4652" stroke-width="1.5"/>
<text x="400" y="527" font-family="Liberation Sans" font-size="7" fill="#8c8c8c" text-anchor="start" font-weight="normal">IC7C</text>
<text x="400" y="566" font-family="Liberation Sans" font-size="7" fill="#8c8c8c" text-anchor="start" font-weight="normal">4066N</text>
<text x="422" y="522" font-family="Liberation Sans" font-size="6.9" fill="#3f9a3f" text-anchor="start" font-weight="normal" stroke="#4a9a4a" stroke-width="0.15">Unused</text>
<text x="407" y="540" font-family="Liberation Sans" font-size="6" fill="#c4c4c4" text-anchor="start" font-weight="normal">A</text>
<text x="433" y="540" font-family="Liberation Sans" font-size="6" fill="#c4c4c4" text-anchor="start" font-weight="normal">B</text>
<text x="407" y="554" font-family="Liberation Sans" font-size="6" fill="#c4c4c4" text-anchor="start" font-weight="normal">C</text>
<polyline points="400,537 385.3,537 385.3,573.4 458.4,573.4 458.4,537 444,537" fill="none" stroke="#6aac6c" stroke-width="1.2"/>
<polyline points="385.3,551.5 400,551.5" fill="none" stroke="#6aac6c" stroke-width="1.2"/>
<circle cx="385.3" cy="551.5" r="1.45" fill="#3f7a4a"/>
<circle cx="422" cy="573.4" r="1.45" fill="#3f7a4a"/>
<line x1="422" y1="574.1" x2="422" y2="580.1" stroke="#6aac6c" stroke-width="1.2"/>
<polyline points="418.1,575.1 422,580.1 425.9,575.1" fill="none" stroke="#9c4652" stroke-width="1.4"/>
<text x="415" y="588.2" font-family="Liberation Sans" font-size="7" fill="#8c8c8c" text-anchor="start" font-weight="normal" transform="rotate(-90 415 588.2)">-5V</text>
<rect x="494.4" y="515.6" width="290" height="101" fill="none" stroke="#c2a6aa" stroke-width="1"/>
<line x1="494.4" y1="551" x2="784.4" y2="551" stroke="#c2a6aa" stroke-width="1"/>
<line x1="494.4" y1="573.2" x2="784.4" y2="573.2" stroke="#c2a6aa" stroke-width="1"/>
<line x1="494.4" y1="602.3" x2="784.4" y2="602.3" stroke="#c2a6aa" stroke-width="1"/>
<line x1="744.6" y1="573.2" x2="744.6" y2="602.3" stroke="#c2a6aa" stroke-width="1"/>
<line x1="697.6" y1="602.3" x2="697.6" y2="616.6" stroke="#c2a6aa" stroke-width="1"/>
<text x="552.3" y="543.4" font-family="Liberation Sans" font-size="24" fill="#a0454d" text-anchor="start" font-weight="normal" textLength="165" lengthAdjust="spacingAndGlyphs">Whites Surf PI</text>
<text x="498" y="562.6" font-family="Liberation Mono" font-size="10.1" fill="#8e5a60" text-anchor="start" font-weight="normal">TITLE:</text>
<text x="544.2" y="562.6" font-family="Liberation Mono" font-size="10.1" fill="#b0626a" text-anchor="start" font-weight="normal">SurfPI Full Schematic</text>
<text x="498" y="584.4" font-family="Liberation Mono" font-size="10.1" fill="#8e5a60" text-anchor="start" font-weight="normal">Document Number:</text>
<text x="603" y="595.2" font-family="Liberation Sans" font-size="10.1" fill="#4a56a8" text-anchor="start" font-weight="normal">Drawn by J. Owen 4/2/2010</text>
<text x="748" y="584.4" font-family="Liberation Mono" font-size="10.1" fill="#8e5a60" text-anchor="start" font-weight="normal">REV:</text>
<text x="748" y="595.2" font-family="Liberation Sans" font-size="10.1" fill="#4a56a8" text-anchor="start" font-weight="normal">Rev 1.2</text>
<text x="498" y="613.5" font-family="Liberation Mono" font-size="10.1" fill="#8e5a60" text-anchor="start" font-weight="normal">Date: 24/06/2011 01:57:32</text>
<text x="701" y="613.5" font-family="Liberation Mono" font-size="10.1" fill="#8e5a60" text-anchor="start" font-weight="normal">Sheet: 1/1</text>
<line x1="37.8" y1="117.3" x2="37.8" y2="124.3" stroke="#a87c82" stroke-width="1.1"/>
<line x1="37.8" y1="138.7" x2="37.8" y2="145.7" stroke="#a87c82" stroke-width="1.1"/>
<line x1="37.8" y1="146.3" x2="37.8" y2="153.3" stroke="#a87c82" stroke-width="1.1"/>
<line x1="37.8" y1="167.9" x2="37.8" y2="174.9" stroke="#a87c82" stroke-width="1.1"/>
<line x1="125.30000000000001" y1="146" x2="132.3" y2="146" stroke="#a87c82" stroke-width="1.1"/>
<line x1="146.9" y1="146" x2="153.9" y2="146" stroke="#a87c82" stroke-width="1.1"/>
<line x1="168.6" y1="88.0" x2="168.6" y2="95" stroke="#a87c82" stroke-width="1.1"/>
<line x1="168.6" y1="110.5" x2="168.6" y2="117.5" stroke="#a87c82" stroke-width="1.1"/>
<line x1="168.6" y1="159.8" x2="168.6" y2="166.8" stroke="#a87c82" stroke-width="1.1"/>
<line x1="168.6" y1="182.6" x2="168.6" y2="189.6" stroke="#a87c82" stroke-width="1.1"/>
<line x1="204.8" y1="181.8" x2="204.8" y2="188.8" stroke="#a87c82" stroke-width="1.1"/>
<line x1="204.8" y1="204.4" x2="204.8" y2="211.4" stroke="#a87c82" stroke-width="1.1"/>
<line x1="204.7" y1="160.4" x2="211.7" y2="160.4" stroke="#a87c82" stroke-width="1.1"/>
<line x1="227.3" y1="160.4" x2="234.3" y2="160.4" stroke="#a87c82" stroke-width="1.1"/>
<line x1="321" y1="73.8" x2="321" y2="80.8" stroke="#a87c82" stroke-width="1.1"/>
<line x1="321" y1="95.5" x2="321" y2="102.5" stroke="#a87c82" stroke-width="1.1"/>
<line x1="262.3" y1="138.6" x2="269.3" y2="138.6" stroke="#a87c82" stroke-width="1.1"/>
<line x1="284.7" y1="138.6" x2="291.7" y2="138.6" stroke="#a87c82" stroke-width="1.1"/>
<line x1="263" y1="181.8" x2="263" y2="188.8" stroke="#a87c82" stroke-width="1.1"/>
<line x1="263" y1="204.2" x2="263" y2="211.2" stroke="#a87c82" stroke-width="1.1"/>
<line x1="364" y1="225.9" x2="364" y2="232.9" stroke="#a87c82" stroke-width="1.1"/>
<line x1="364" y1="247.5" x2="364" y2="254.5" stroke="#a87c82" stroke-width="1.1"/>
<line x1="451.0" y1="167.5" x2="458" y2="167.5" stroke="#a87c82" stroke-width="1.1"/>
<line x1="473" y1="167.5" x2="480.0" y2="167.5" stroke="#a87c82" stroke-width="1.1"/>
<line x1="458.0" y1="211" x2="465" y2="211" stroke="#a87c82" stroke-width="1.1"/>
<line x1="480.6" y1="211" x2="487.6" y2="211" stroke="#a87c82" stroke-width="1.1"/>
<line x1="502" y1="225.6" x2="502" y2="232.6" stroke="#a87c82" stroke-width="1.1"/>
<line x1="502" y1="247.6" x2="502" y2="254.6" stroke="#a87c82" stroke-width="1.1"/>
<line x1="509.0" y1="145.6" x2="516" y2="145.6" stroke="#a87c82" stroke-width="1.1"/>
<line x1="531" y1="145.6" x2="538.0" y2="145.6" stroke="#a87c82" stroke-width="1.1"/>
<line x1="581.6" y1="175.0" x2="581.6" y2="182" stroke="#a87c82" stroke-width="1.1"/>
<line x1="581.6" y1="197.2" x2="581.6" y2="204.2" stroke="#a87c82" stroke-width="1.1"/>
<line x1="596.0" y1="197" x2="603" y2="197" stroke="#a87c82" stroke-width="1.1"/>
<line x1="618" y1="197" x2="625.0" y2="197" stroke="#a87c82" stroke-width="1.1"/>
<line x1="610.4" y1="226.0" x2="610.4" y2="233" stroke="#a87c82" stroke-width="1.1"/>
<line x1="610.4" y1="248.4" x2="610.4" y2="255.4" stroke="#a87c82" stroke-width="1.1"/>
<line x1="654.0" y1="211" x2="661" y2="211" stroke="#a87c82" stroke-width="1.1"/>
<line x1="675.8" y1="211" x2="682.8" y2="211" stroke="#a87c82" stroke-width="1.1"/>
<line x1="639.6" y1="247.0" x2="639.6" y2="254" stroke="#a87c82" stroke-width="1.1"/>
<line x1="639.6" y1="269.6" x2="639.6" y2="276.6" stroke="#a87c82" stroke-width="1.1"/>
<line x1="697.4" y1="247.0" x2="697.4" y2="254" stroke="#a87c82" stroke-width="1.1"/>
<line x1="697.4" y1="269.6" x2="697.4" y2="276.6" stroke="#a87c82" stroke-width="1.1"/>
<line x1="740.5" y1="428.0" x2="740.5" y2="435" stroke="#a87c82" stroke-width="1.1"/>
<line x1="740.5" y1="451" x2="740.5" y2="458.0" stroke="#a87c82" stroke-width="1.1"/>
<line x1="697.4" y1="428.0" x2="697.4" y2="435" stroke="#a87c82" stroke-width="1.1"/>
<line x1="697.4" y1="451" x2="697.4" y2="458.0" stroke="#a87c82" stroke-width="1.1"/>
<line x1="197.6" y1="312.6" x2="197.6" y2="319.6" stroke="#a87c82" stroke-width="1.1"/>
<line x1="197.6" y1="334.2" x2="197.6" y2="341.2" stroke="#a87c82" stroke-width="1.1"/>
<line x1="313.4" y1="305.0" x2="313.4" y2="312" stroke="#a87c82" stroke-width="1.1"/>
<line x1="313.4" y1="327.8" x2="313.4" y2="334.8" stroke="#a87c82" stroke-width="1.1"/>
<line x1="313.6" y1="370.6" x2="313.6" y2="377.6" stroke="#a87c82" stroke-width="1.1"/>
<line x1="313.6" y1="392.6" x2="313.6" y2="399.6" stroke="#a87c82" stroke-width="1.1"/>
<line x1="400" y1="342.0" x2="400" y2="349" stroke="#a87c82" stroke-width="1.1"/>
<line x1="400" y1="363.8" x2="400" y2="370.8" stroke="#a87c82" stroke-width="1.1"/>
<line x1="52.5" y1="124.5" x2="66.5" y2="124.5" stroke="#a87c82" stroke-width="1.1"/>
<line x1="52.5" y1="145.8" x2="66.5" y2="145.8" stroke="#a87c82" stroke-width="1.1"/>
<line x1="52.5" y1="167.7" x2="66.5" y2="167.7" stroke="#a87c82" stroke-width="1.1"/>
<line x1="111.5" y1="124.5" x2="118" y2="124.5" stroke="#a87c82" stroke-width="1.1"/>
<line x1="111.5" y1="131.4" x2="118" y2="131.4" stroke="#a87c82" stroke-width="1.1"/>
<line x1="111.5" y1="145.8" x2="118" y2="145.8" stroke="#a87c82" stroke-width="1.1"/>
<line x1="111.5" y1="160" x2="118" y2="160" stroke="#a87c82" stroke-width="1.1"/>
<line x1="111.5" y1="167.7" x2="118" y2="167.7" stroke="#a87c82" stroke-width="1.1"/>
<line x1="378.2" y1="167.5" x2="392.2" y2="167.5" stroke="#a87c82" stroke-width="1.1"/>
<line x1="378.2" y1="182" x2="392.2" y2="182" stroke="#a87c82" stroke-width="1.1"/>
<line x1="436.8" y1="167.5" x2="450.8" y2="167.5" stroke="#a87c82" stroke-width="1.1"/>
<line x1="386" y1="211" x2="400" y2="211" stroke="#a87c82" stroke-width="1.1"/>
<line x1="444.2" y1="211" x2="458.2" y2="211" stroke="#a87c82" stroke-width="1.1"/>
<line x1="444.2" y1="225.3" x2="458.2" y2="225.3" stroke="#a87c82" stroke-width="1.1"/>
<line x1="516.2" y1="377.7" x2="530.2" y2="377.7" stroke="#a87c82" stroke-width="1.1"/>
<line x1="516.2" y1="392" x2="530.2" y2="392" stroke="#a87c82" stroke-width="1.1"/>
<line x1="575" y1="377.7" x2="589" y2="377.7" stroke="#a87c82" stroke-width="1.1"/>
<line x1="386" y1="537" x2="400" y2="537" stroke="#a87c82" stroke-width="1.1"/>
<line x1="386" y1="551.5" x2="400" y2="551.5" stroke="#a87c82" stroke-width="1.1"/>
<line x1="444" y1="537" x2="458" y2="537" stroke="#a87c82" stroke-width="1.1"/>
<line x1="102.6" y1="450.2" x2="109.6" y2="450.2" stroke="#a87c82" stroke-width="1.1"/>
<line x1="154.4" y1="450.4" x2="161.4" y2="450.4" stroke="#a87c82" stroke-width="1.1"/>
<line x1="132" y1="464.8" x2="132" y2="471.8" stroke="#a87c82" stroke-width="1.1"/>
<line x1="219.4" y1="465" x2="219.4" y2="479" stroke="#a87c82" stroke-width="1.1"/>
<line x1="233.6" y1="465" x2="233.6" y2="479" stroke="#a87c82" stroke-width="1.1"/>
<line x1="247.9" y1="465" x2="247.9" y2="479" stroke="#a87c82" stroke-width="1.1"/>
<line x1="262.2" y1="465" x2="262.2" y2="479" stroke="#a87c82" stroke-width="1.1"/>
<line x1="233.5" y1="530.2" x2="233.5" y2="544.2" stroke="#a87c82" stroke-width="1.1"/>
<line x1="248" y1="530.2" x2="248" y2="544.2" stroke="#a87c82" stroke-width="1.1"/>
<line x1="277.5" y1="160.4" x2="291.5" y2="160.4" stroke="#a87c82" stroke-width="1.1"/>
<line x1="277.5" y1="174.8" x2="291.5" y2="174.8" stroke="#a87c82" stroke-width="1.1"/>
<line x1="320.5" y1="167.5" x2="334.5" y2="167.5" stroke="#a87c82" stroke-width="1.1"/>
<line x1="494.6" y1="167.4" x2="508.6" y2="167.4" stroke="#a87c82" stroke-width="1.1"/>
<line x1="494.6" y1="182.4" x2="508.6" y2="182.4" stroke="#a87c82" stroke-width="1.1"/>
<line x1="538" y1="174.6" x2="552" y2="174.6" stroke="#a87c82" stroke-width="1.1"/>
<line x1="632.4" y1="175" x2="646.4" y2="175" stroke="#a87c82" stroke-width="1.1"/>
<line x1="632.4" y1="189.4" x2="646.4" y2="189.4" stroke="#a87c82" stroke-width="1.1"/>
<line x1="675.6" y1="182" x2="689.6" y2="182" stroke="#a87c82" stroke-width="1.1"/>
<line x1="226.3" y1="327" x2="240.3" y2="327" stroke="#a87c82" stroke-width="1.1"/>
<line x1="226.3" y1="341.4" x2="240.3" y2="341.4" stroke="#a87c82" stroke-width="1.1"/>
<line x1="260.9" y1="334.5" x2="274.9" y2="334.5" stroke="#a87c82" stroke-width="1.1"/>
<line x1="328" y1="319.4" x2="342" y2="319.4" stroke="#a87c82" stroke-width="1.1"/>
<line x1="328" y1="334.5" x2="342" y2="334.5" stroke="#a87c82" stroke-width="1.1"/>
<line x1="361.9" y1="327" x2="375.9" y2="327" stroke="#a87c82" stroke-width="1.1"/>
<line x1="328" y1="385" x2="342" y2="385" stroke="#a87c82" stroke-width="1.1"/>
<line x1="328" y1="399.4" x2="342" y2="399.4" stroke="#a87c82" stroke-width="1.1"/>
<line x1="361.9" y1="392.4" x2="375.9" y2="392.4" stroke="#a87c82" stroke-width="1.1"/>
<line x1="414.6" y1="341.6" x2="428.6" y2="341.6" stroke="#a87c82" stroke-width="1.1"/>
<line x1="414.6" y1="356.2" x2="428.6" y2="356.2" stroke="#a87c82" stroke-width="1.1"/>
<line x1="448.5" y1="348.6" x2="462.5" y2="348.6" stroke="#a87c82" stroke-width="1.1"/>
<line x1="153.8" y1="146" x2="160.5" y2="146" stroke="#a87c82" stroke-width="1.1"/>
<line x1="168.6" y1="131.6" x2="168.6" y2="138.6" stroke="#a87c82" stroke-width="1.1"/>
<line x1="168.6" y1="153.5" x2="168.6" y2="160.4" stroke="#a87c82" stroke-width="1.1"/>
<line x1="726" y1="406.3" x2="732.4" y2="406.3" stroke="#a87c82" stroke-width="1.1"/>
<line x1="740.5" y1="387.5" x2="740.5" y2="394" stroke="#a87c82" stroke-width="1.1"/>
<line x1="740.5" y1="414.5" x2="740.5" y2="421.4" stroke="#a87c82" stroke-width="1.1"/>
<line x1="187" y1="117" x2="194" y2="117" stroke="#a87c82" stroke-width="1.1"/>
<line x1="233.7" y1="185.6" x2="233.7" y2="192.6" stroke="#a87c82" stroke-width="1.1"/>
<line x1="233.7" y1="200.4" x2="233.7" y2="207.4" stroke="#a87c82" stroke-width="1.1"/>
<line x1="248.3" y1="164" x2="248.3" y2="171" stroke="#a87c82" stroke-width="1.1"/>
<line x1="248.3" y1="177.6" x2="248.3" y2="184.6" stroke="#a87c82" stroke-width="1.1"/>
<line x1="697.4" y1="287.4" x2="697.4" y2="294.4" stroke="#a87c82" stroke-width="1.1"/>
<line x1="697.4" y1="301" x2="697.4" y2="308" stroke="#a87c82" stroke-width="1.1"/>
<line x1="88.8" y1="526.3" x2="88.8" y2="533.3" stroke="#a87c82" stroke-width="1.1"/>
<line x1="88.8" y1="540.8" x2="88.8" y2="547.8" stroke="#a87c82" stroke-width="1.1"/>
<line x1="52.5" y1="192.8" x2="52.5" y2="197.8" stroke="#a87c82" stroke-width="1.1"/>
<line x1="52.5" y1="202.9" x2="52.5" y2="207.9" stroke="#a87c82" stroke-width="1.1"/>
<line x1="132.2" y1="192.8" x2="132.2" y2="197.8" stroke="#a87c82" stroke-width="1.1"/>
<line x1="132.2" y1="202.9" x2="132.2" y2="207.9" stroke="#a87c82" stroke-width="1.1"/>
<line x1="277.4" y1="186.1" x2="277.4" y2="191.1" stroke="#a87c82" stroke-width="1.1"/>
<line x1="277.4" y1="195.9" x2="277.4" y2="200.9" stroke="#a87c82" stroke-width="1.1"/>
<line x1="487" y1="222" x2="487" y2="227" stroke="#a87c82" stroke-width="1.1"/>
<line x1="487" y1="232.2" x2="487" y2="237.2" stroke="#a87c82" stroke-width="1.1"/>
<line x1="400" y1="374.3" x2="400" y2="379.3" stroke="#a87c82" stroke-width="1.1"/>
<line x1="400" y1="384.3" x2="400" y2="389.3" stroke="#a87c82" stroke-width="1.1"/>
<line x1="763" y1="403.6" x2="763" y2="408.6" stroke="#a87c82" stroke-width="1.1"/>
<line x1="763" y1="413.6" x2="763" y2="418.6" stroke="#a87c82" stroke-width="1.1"/>
<line x1="342.5" y1="533.6" x2="342.5" y2="538.6" stroke="#a87c82" stroke-width="1.1"/>
<line x1="342.5" y1="543.6" x2="342.5" y2="548.6" stroke="#a87c82" stroke-width="1.1"/>
<line x1="247.6" y1="90.5" x2="247.6" y2="95.5" stroke="#a87c82" stroke-width="1.1"/>
<line x1="247.6" y1="102.2" x2="247.6" y2="107.2" stroke="#a87c82" stroke-width="1.1"/>
<line x1="168.6" y1="532.4" x2="168.6" y2="537.4" stroke="#a87c82" stroke-width="1.1"/>
<line x1="168.6" y1="544.1" x2="168.6" y2="549.1" stroke="#a87c82" stroke-width="1.1"/>
<line x1="291.6" y1="532.6" x2="291.6" y2="537.6" stroke="#a87c82" stroke-width="1.1"/>
<line x1="291.6" y1="544.4" x2="291.6" y2="549.4" stroke="#a87c82" stroke-width="1.1"/>
<line x1="345.6" y1="167.5" x2="350.6" y2="167.5" stroke="#a87c82" stroke-width="1.1"/>
<line x1="355.7" y1="167.5" x2="360.7" y2="167.5" stroke="#a87c82" stroke-width="1.1"/>
<line x1="512" y1="124.4" x2="517" y2="124.4" stroke="#a87c82" stroke-width="1.1"/>
<line x1="522" y1="124.4" x2="527" y2="124.4" stroke="#a87c82" stroke-width="1.1"/>
<line x1="563.1" y1="174.8" x2="568.1" y2="174.8" stroke="#a87c82" stroke-width="1.1"/>
<line x1="573.2" y1="174.8" x2="578.2" y2="174.8" stroke="#a87c82" stroke-width="1.1"/>
<line x1="664.6" y1="232.4" x2="669.6" y2="232.4" stroke="#a87c82" stroke-width="1.1"/>
<line x1="674.6" y1="232.4" x2="679.6" y2="232.4" stroke="#a87c82" stroke-width="1.1"/>
<line x1="164.4" y1="341.4" x2="169.4" y2="341.4" stroke="#a87c82" stroke-width="1.1"/>
<line x1="174.2" y1="341.4" x2="179.2" y2="341.4" stroke="#a87c82" stroke-width="1.1"/>
<line x1="281" y1="334.5" x2="286" y2="334.5" stroke="#a87c82" stroke-width="1.1"/>
<line x1="290.8" y1="334.5" x2="295.8" y2="334.5" stroke="#a87c82" stroke-width="1.1"/>
<line x1="280.4" y1="399.4" x2="285.4" y2="399.4" stroke="#a87c82" stroke-width="1.1"/>
<line x1="290" y1="399.4" x2="295" y2="399.4" stroke="#a87c82" stroke-width="1.1"/>
</svg>
</body></html>
